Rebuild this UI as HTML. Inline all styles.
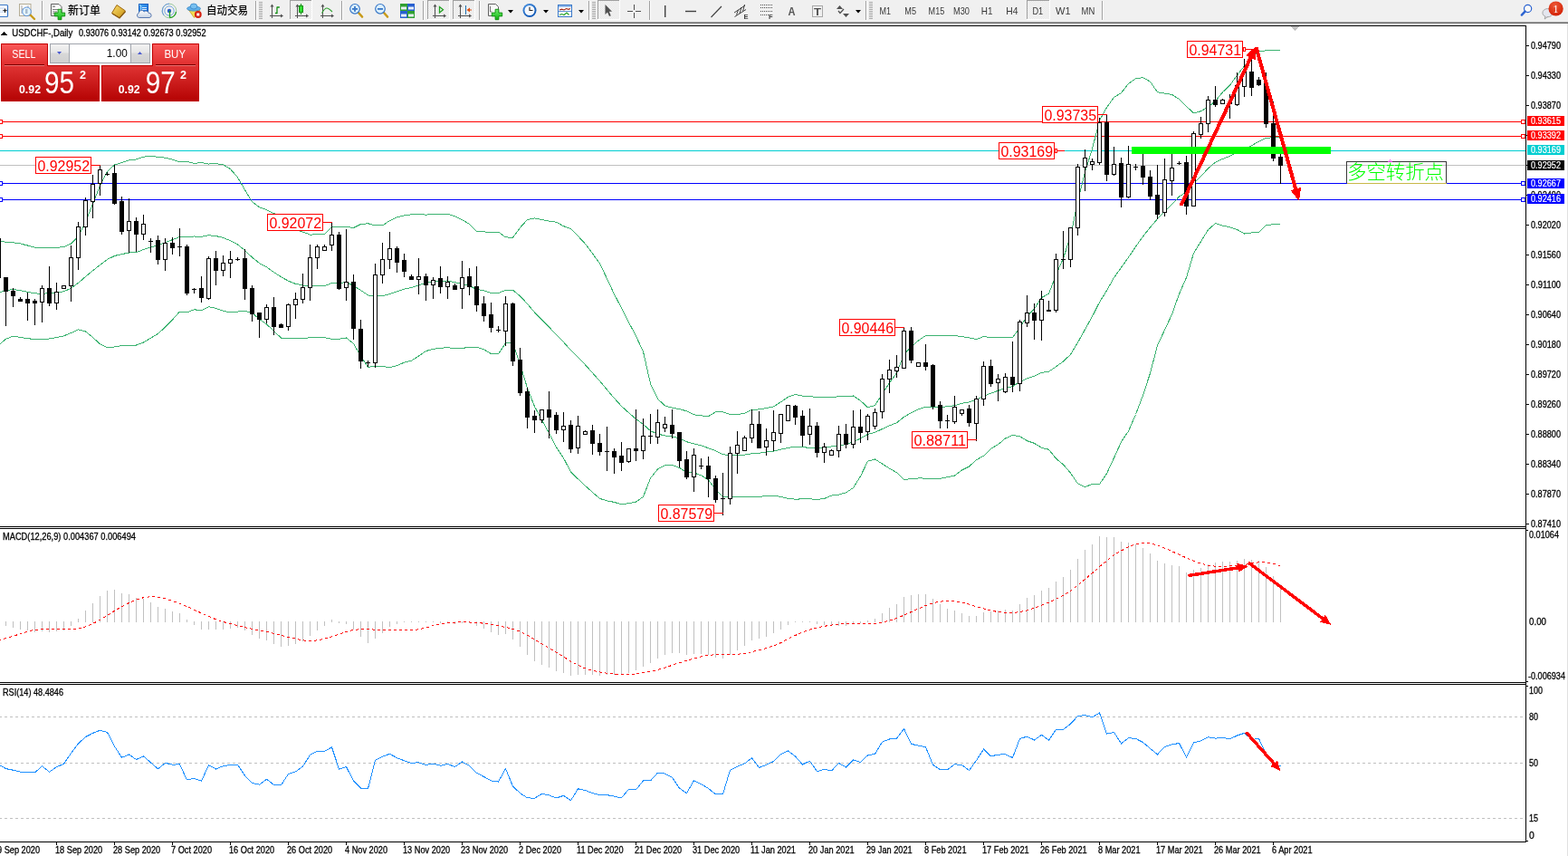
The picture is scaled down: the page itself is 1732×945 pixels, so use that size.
<!DOCTYPE html>
<html><head><meta charset="utf-8"><title>USDCHF-,Daily</title>
<style>
html,body{margin:0;padding:0;background:#fff;}
body{width:1732px;height:945px;overflow:hidden;position:relative;}
svg{position:absolute;left:0;top:0;display:block;}
text{white-space:pre;}
</style></head>
<body>
<svg width="1732" height="945" viewBox="0 0 1732 945" >
<rect x="0" y="0" width="1732" height="945" fill="#fff"/>
<g>
<defs>
<linearGradient id="tbgold" x1="0" y1="0" x2="1" y2="1"><stop offset="0" stop-color="#fbe070"/><stop offset="1" stop-color="#c89010"/></linearGradient>
<linearGradient id="tbblue" x1="0" y1="0" x2="1" y2="1"><stop offset="0" stop-color="#4ab0f8"/><stop offset="1" stop-color="#1060d0"/></linearGradient>
<linearGradient id="tbcloud" x1="0" y1="0" x2="0" y2="1"><stop offset="0" stop-color="#ffffff"/><stop offset="1" stop-color="#c8d4e4"/></linearGradient>
<linearGradient id="tbgreen" x1="0" y1="0" x2="0" y2="1"><stop offset="0" stop-color="#70f070"/><stop offset="1" stop-color="#10b010"/></linearGradient>
<radialGradient id="tbclock" cx="0.4" cy="0.35" r="0.7"><stop offset="0" stop-color="#60a8f0"/><stop offset="1" stop-color="#0850b0"/></radialGradient>
<pattern id="tbchk" width="2" height="2" patternUnits="userSpaceOnUse"><rect width="2" height="2" fill="#f8f8f8"/><rect width="1" height="1" fill="#e4e4e4"/><rect x="1" y="1" width="1" height="1" fill="#e4e4e4"/></pattern>
</defs>
<rect x="0" y="0" width="1732" height="24" fill="#f0f0f0"/>
<rect x="0" y="24" width="1732" height="1" fill="#a0a0a0"/>
<rect x="0" y="25" width="1732" height="1" fill="#686868"/>
<rect x="0" y="26" width="1732" height="2" fill="#ffffff"/>
<rect x="-6" y="5.5" width="14.5" height="13" rx="1" fill="#fff" stroke="#3a78c8" stroke-width="1.2"/>
<rect x="-5" y="7.5" width="10" height="0.8" fill="#c8d8f0"/>
<rect x="-5" y="9" width="10" height="0.8" fill="#c8d8f0"/>
<rect x="-5" y="11.5" width="10" height="0.8" fill="#c8d8f0"/>
<rect x="-5" y="13" width="10" height="0.8" fill="#c8d8f0"/>
<path d="M5.5,9.5 v4.5 M3.3,11.7 h4.5" stroke="#111" stroke-width="1"/>
<rect x="21.5" y="4.5" width="12.5" height="13" fill="#fcfcfc" stroke="#b4ac94" stroke-width="1"/>
<path d="M24,6 v9 M24,10 h2 M31,6 v5" stroke="#909090" stroke-width="0.8" fill="none"/>
<line x1="33.5" y1="16.5" x2="38" y2="21" stroke="#c89a18" stroke-width="2.4" stroke-linecap="round"/>
<circle cx="29.5" cy="12.8" r="4.8" fill="#e2f4fc" fill-opacity="0.92" stroke="#5a92dc" stroke-width="1"/>
<rect x="28" y="10" width="2.5" height="5" fill="#a8bcd0"/>
<rect x="46" y="1" width="1" height="21" fill="#a0a0a0"/>
<rect x="47" y="1" width="1" height="21" fill="#ffffff"/>
<path d="M56.5,4.5 h8.5 l3,3 v10 h-11.5 z" fill="#fafafa" stroke="#606060" stroke-width="1"/>
<rect x="58" y="6.5" width="3" height="1.3" fill="#808080"/><rect x="58" y="10" width="6" height="0.9" fill="#707070"/><rect x="58" y="12.5" width="5" height="0.9" fill="#707070"/><rect x="58" y="14.5" width="3" height="0.9" fill="#707070"/>
<path d="M64.1,10.3 h3.8 v3.7999999999999994 h3.7999999999999994 v3.8 h-3.7999999999999994 v3.7999999999999994 h-3.8 v-3.7999999999999994 h-3.7999999999999994 v-3.8 h3.7999999999999994 z" fill="url(#tbgreen)" stroke="#0a8a0a" stroke-width="0.9"/>
<text x="75" y="15.5" font-family='"Liberation Sans", "Noto Sans CJK SC", sans-serif' font-size="12" font-weight="500" fill="#000" textLength="36" lengthAdjust="spacingAndGlyphs">新订单</text>
<path d="M123.5,14.5 L129,5.5 L138.5,12 L132,19.5 Z" fill="url(#tbgold)" stroke="#a06a10" stroke-width="1" stroke-linejoin="round"/>
<path d="M124,15 L132,20 L138.5,12.8" fill="none" stroke="#8a5a10" stroke-width="1.3"/>
<rect x="153.5" y="4.5" width="10" height="10" fill="url(#tbblue)" stroke="#1a60c0" stroke-width="1"/>
<path d="M153.8,4.8 l2,2 v8" stroke="#bfe4ff" stroke-width="0.8" fill="none"/>
<rect x="157" y="8" width="5" height="1" fill="#d8ecff"/><rect x="157" y="10" width="5" height="1" fill="#d8ecff"/>
<path d="M153.5,19.5 a2.6,2.6 0 0 1 -0.3,-5 a3.3,3.3 0 0 1 6,-1.6 a3,3 0 0 1 5,1.6 a2.5,2.5 0 0 1 0.8,5 z" fill="url(#tbcloud)" stroke="#5a7ab0" stroke-width="1"/>
<circle cx="187" cy="12" r="7.8" fill="none" stroke="#9cc89c" stroke-width="1"/>
<path d="M181,17 A7.8,7.8 0 0 1 187,4.2" fill="none" stroke="#6a98e0" stroke-width="1"/>
<circle cx="187" cy="12" r="5.2" fill="none" stroke="#78a8e0" stroke-width="1"/>
<circle cx="187" cy="12" r="2.2" fill="#2a5ec8"/>
<path d="M187.5,12 V19.5 M187.5,19.5 A7.5,7.5 0 0 0 194.5,13" fill="none" stroke="#20a020" stroke-width="1.3"/>
<path d="M208.5,11 L214.5,19.5 L221,11 Z" fill="#f4dc50" stroke="#c8a020" stroke-width="0.8"/>
<ellipse cx="214" cy="9.5" rx="7.5" ry="2.6" fill="#62b0e8" stroke="#3a88c8" stroke-width="0.8"/>
<ellipse cx="214" cy="7" rx="3.8" ry="3" fill="#78c0f0" stroke="#3a88c8" stroke-width="0.8"/>
<circle cx="218.8" cy="16" r="3.9" fill="#d42010"/>
<rect x="217.3" y="14.5" width="3" height="3" fill="#fff"/>
<text x="228" y="15.5" font-family='"Liberation Sans", "Noto Sans CJK SC", sans-serif' font-size="12" font-weight="500" fill="#000" textLength="46" lengthAdjust="spacingAndGlyphs">自动交易</text>
<rect x="282" y="1" width="1" height="21" fill="#a0a0a0"/>
<rect x="283" y="1" width="1" height="21" fill="#ffffff"/>
<rect x="286" y="2" width="4" height="1" fill="#a8a8a8"/>
<rect x="286" y="4" width="4" height="1" fill="#a8a8a8"/>
<rect x="286" y="6" width="4" height="1" fill="#a8a8a8"/>
<rect x="286" y="8" width="4" height="1" fill="#a8a8a8"/>
<rect x="286" y="10" width="4" height="1" fill="#a8a8a8"/>
<rect x="286" y="12" width="4" height="1" fill="#a8a8a8"/>
<rect x="286" y="14" width="4" height="1" fill="#a8a8a8"/>
<rect x="286" y="16" width="4" height="1" fill="#a8a8a8"/>
<rect x="286" y="18" width="4" height="1" fill="#a8a8a8"/>
<rect x="286" y="20" width="4" height="1" fill="#a8a8a8"/>
<rect x="300" y="6" width="1" height="14" fill="#505050"/>
<rect x="298" y="17" width="14" height="1" fill="#505050"/>
<polygon points="300.5,4.5 298.5,7.5 302.5,7.5" fill="#505050"/>
<polygon points="313,17.5 310,15.5 310,19.5" fill="#505050"/>
<path d="M304,14.5 h2.5 M306,15 V7.5 M306,8 h2.8" fill="none" stroke="#159015" stroke-width="1.3"/>
<rect x="320" y="0" width="25" height="22" fill="url(#tbchk)"/>
<rect x="320" y="0" width="25" height="1" fill="#a0a0a0"/>
<rect x="320" y="0" width="1" height="22" fill="#a0a0a0"/>
<rect x="344" y="0" width="1" height="22" fill="#ffffff"/>
<rect x="320" y="21" width="25" height="1" fill="#ffffff"/>
<rect x="328" y="6" width="1" height="14" fill="#505050"/>
<rect x="326" y="17" width="14" height="1" fill="#505050"/>
<polygon points="328.5,4.5 326.5,7.5 330.5,7.5" fill="#505050"/>
<polygon points="341,17.5 338,15.5 338,19.5" fill="#505050"/>
<rect x="332" y="4" width="1" height="12" fill="#109010"/>
<rect x="330.5" y="6.5" width="4" height="7" fill="#30e030" stroke="#109010" stroke-width="1"/>
<rect x="356" y="6" width="1" height="14" fill="#505050"/>
<rect x="354" y="17" width="14" height="1" fill="#505050"/>
<polygon points="356.5,4.5 354.5,7.5 358.5,7.5" fill="#505050"/>
<polygon points="369,17.5 366,15.5 366,19.5" fill="#505050"/>
<path d="M355.5,14.5 Q358.5,9 361,9 Q363,9 367,13" fill="none" stroke="#30a030" stroke-width="1.1"/>
<rect x="377" y="1" width="1" height="21" fill="#a0a0a0"/>
<rect x="378" y="1" width="1" height="21" fill="#ffffff"/>
<line x1="395.5" y1="13.5" x2="400" y2="18.5" stroke="#c89a18" stroke-width="2.6" stroke-linecap="round"/>
<circle cx="392" cy="9.8" r="5.3" fill="#dcf0fc" stroke="#3a78c8" stroke-width="1.2"/>
<rect x="389" y="9" width="6" height="1.8" fill="#3a78c8"/>
<rect x="391.1" y="6.9" width="1.8" height="6" fill="#3a78c8"/>
<line x1="423.5" y1="13.5" x2="428" y2="18.5" stroke="#c89a18" stroke-width="2.6" stroke-linecap="round"/>
<circle cx="420" cy="9.8" r="5.3" fill="#dcf0fc" stroke="#3a78c8" stroke-width="1.2"/>
<rect x="417" y="9" width="6" height="1.8" fill="#3a78c8"/>
<rect x="442" y="4" width="8" height="8" fill="#30a030"/>
<rect x="443" y="7.5" width="6" height="3" fill="#e8f0f8"/>
<rect x="450" y="4" width="8" height="8" fill="#2860d0"/>
<rect x="451" y="7.5" width="6" height="3" fill="#e8f0f8"/>
<rect x="442" y="12" width="8" height="8" fill="#2860d0"/>
<rect x="443" y="15.5" width="6" height="3" fill="#e8f0f8"/>
<rect x="450" y="12" width="8" height="8" fill="#30a030"/>
<rect x="451" y="15.5" width="6" height="3" fill="#e8f0f8"/>
<rect x="467" y="1" width="1" height="21" fill="#a0a0a0"/>
<rect x="468" y="1" width="1" height="21" fill="#ffffff"/>
<rect x="472" y="0" width="25" height="22" fill="url(#tbchk)"/>
<rect x="472" y="0" width="25" height="1" fill="#a0a0a0"/>
<rect x="472" y="0" width="1" height="22" fill="#a0a0a0"/>
<rect x="496" y="0" width="1" height="22" fill="#ffffff"/>
<rect x="472" y="21" width="25" height="1" fill="#ffffff"/>
<rect x="480" y="6" width="1" height="14" fill="#505050"/>
<rect x="478" y="17" width="14" height="1" fill="#505050"/>
<polygon points="480.5,4.5 478.5,7.5 482.5,7.5" fill="#505050"/>
<polygon points="493,17.5 490,15.5 490,19.5" fill="#505050"/>
<polygon points="485.5,7.5 485.5,14 489.5,10.75" fill="none" stroke="#20a020" stroke-width="1.3"/>
<rect x="500" y="0" width="25" height="22" fill="url(#tbchk)"/>
<rect x="500" y="0" width="25" height="1" fill="#a0a0a0"/>
<rect x="500" y="0" width="1" height="22" fill="#a0a0a0"/>
<rect x="524" y="0" width="1" height="22" fill="#ffffff"/>
<rect x="500" y="21" width="25" height="1" fill="#ffffff"/>
<rect x="508" y="6" width="1" height="14" fill="#505050"/>
<rect x="506" y="17" width="14" height="1" fill="#505050"/>
<polygon points="508.5,4.5 506.5,7.5 510.5,7.5" fill="#505050"/>
<polygon points="521,17.5 518,15.5 518,19.5" fill="#505050"/>
<rect x="514" y="6" width="1" height="10" fill="#1f6fb0"/>
<polygon points="515.5,11 519,8.5 519,13.5" fill="#e05010"/><rect x="518" y="10.5" width="3" height="1" fill="#e05010"/>
<rect x="529" y="1" width="1" height="21" fill="#a0a0a0"/>
<rect x="530" y="1" width="1" height="21" fill="#ffffff"/>
<path d="M539.5,4.5 h8 l3,3 v10 h-11 z" fill="#fafafa" stroke="#606060" stroke-width="1"/>
<path d="M541.5,7 v6 h2" fill="none" stroke="#505050" stroke-width="0.8"/>
<path d="M547.1,10.3 h3.8 v3.7999999999999994 h3.7999999999999994 v3.8 h-3.7999999999999994 v3.7999999999999994 h-3.8 v-3.7999999999999994 h-3.7999999999999994 v-3.8 h3.7999999999999994 z" fill="url(#tbgreen)" stroke="#0a8a0a" stroke-width="0.9"/>
<polygon points="561,11 567,11 564,14.5" fill="#000"/>
<circle cx="585" cy="11.5" r="7.5" fill="url(#tbclock)"/>
<circle cx="585" cy="11.5" r="5.5" fill="#f6f8fc"/>
<path d="M585,7.8 V11.5 H588.5" fill="none" stroke="#222" stroke-width="1.1"/>
<polygon points="600,11 606,11 603,14.5" fill="#000"/>
<rect x="616.5" y="5.5" width="15" height="13" fill="#fff" stroke="#3a78c8" stroke-width="1"/>
<rect x="617" y="6" width="14" height="1.8" fill="#8ab4e8"/>
<rect x="617" y="12.2" width="14" height="0.8" fill="#3a78c8"/>
<path d="M618,11 l2.5,-0.8 l2.5,0.8 l2.5,-1.5 l2.5,0.8 l2,-0.8" fill="none" stroke="#a02010" stroke-width="1.1"/>
<path d="M618,16.5 l2.5,-1 l2.5,1 l3,-2.5 l2.5,2.5" fill="none" stroke="#20a020" stroke-width="1.1"/>
<polygon points="639,11 645,11 642,14.5" fill="#000"/>
<rect x="650" y="1" width="1" height="21" fill="#a0a0a0"/>
<rect x="651" y="1" width="1" height="21" fill="#ffffff"/>
<rect x="654" y="2" width="4" height="1" fill="#a8a8a8"/>
<rect x="654" y="4" width="4" height="1" fill="#a8a8a8"/>
<rect x="654" y="6" width="4" height="1" fill="#a8a8a8"/>
<rect x="654" y="8" width="4" height="1" fill="#a8a8a8"/>
<rect x="654" y="10" width="4" height="1" fill="#a8a8a8"/>
<rect x="654" y="12" width="4" height="1" fill="#a8a8a8"/>
<rect x="654" y="14" width="4" height="1" fill="#a8a8a8"/>
<rect x="654" y="16" width="4" height="1" fill="#a8a8a8"/>
<rect x="654" y="18" width="4" height="1" fill="#a8a8a8"/>
<rect x="654" y="20" width="4" height="1" fill="#a8a8a8"/>
<rect x="660" y="0" width="25" height="22" fill="url(#tbchk)"/>
<rect x="660" y="0" width="25" height="1" fill="#a0a0a0"/>
<rect x="660" y="0" width="1" height="22" fill="#a0a0a0"/>
<rect x="684" y="0" width="1" height="22" fill="#ffffff"/>
<rect x="660" y="21" width="25" height="1" fill="#ffffff"/>
<path d="M668.5,5 L668.5,16 L671,13.5 L673,18 L674.8,17.2 L672.8,12.8 L676,12.8 Z" fill="#505050"/>
<rect x="700" y="5" width="1" height="15" fill="#505050"/><rect x="693" y="12" width="15" height="1" fill="#505050"/>
<rect x="699" y="11" width="3" height="3" fill="#f0f0f0"/>
<rect x="717" y="1" width="1" height="21" fill="#a0a0a0"/>
<rect x="718" y="1" width="1" height="21" fill="#ffffff"/>
<rect x="734" y="6" width="1.4" height="13" fill="#404040"/>
<rect x="757" y="11.8" width="12" height="1.4" fill="#404040"/>
<line x1="785.5" y1="19" x2="797" y2="7" stroke="#404040" stroke-width="1.1"/>
<path d="M811,14 L823,6 M811.5,18.5 L824,10.5 M813.5,16.5 L815.5,11 M817,15 L819,8 M820.5,12.5 L822.5,5" fill="none" stroke="#404040" stroke-width="1"/>
<text x="821.5" y="21" font-family='"Liberation Sans", Arial, sans-serif' font-size="7.5" font-weight="bold" fill="#404040">E</text>
<line x1="840" y1="5.5" x2="853" y2="5.5" stroke="#505050" stroke-width="1" stroke-dasharray="1 1"/>
<line x1="840" y1="8.5" x2="853" y2="8.5" stroke="#505050" stroke-width="1" stroke-dasharray="1 1"/>
<line x1="840" y1="12.5" x2="853" y2="12.5" stroke="#505050" stroke-width="1" stroke-dasharray="1 1"/>
<line x1="840" y1="16.5" x2="849" y2="16.5" stroke="#505050" stroke-width="1" stroke-dasharray="1 1"/>
<text x="849" y="21" font-family='"Liberation Sans", Arial, sans-serif' font-size="7.5" font-weight="bold" fill="#404040">F</text>
<text x="870.5" y="17" font-family='"Liberation Sans", Arial, sans-serif' font-size="12" font-weight="bold" fill="#555" textLength="8" lengthAdjust="spacingAndGlyphs">A</text>
<rect x="897.5" y="6.5" width="11" height="12" fill="none" stroke="#606060" stroke-width="1" stroke-dasharray="1 1"/>
<text x="899" y="16.5" font-family='"Liberation Sans", Arial, sans-serif' font-size="11" font-weight="bold" fill="#505050" textLength="8" lengthAdjust="spacingAndGlyphs">T</text>
<polygon points="924,10 927.5,6 931,10" fill="#505050"/><polygon points="931,15 934.5,19 938,15" fill="#505050"/>
<path d="M926,12 l2,2.5 l4,-4.5" fill="none" stroke="#505050" stroke-width="1.3"/>
<polygon points="945,11 951,11 948,14.5" fill="#000"/>
<rect x="956" y="1" width="1" height="21" fill="#a0a0a0"/>
<rect x="957" y="1" width="1" height="21" fill="#ffffff"/>
<rect x="960" y="2" width="4" height="1" fill="#a8a8a8"/>
<rect x="960" y="4" width="4" height="1" fill="#a8a8a8"/>
<rect x="960" y="6" width="4" height="1" fill="#a8a8a8"/>
<rect x="960" y="8" width="4" height="1" fill="#a8a8a8"/>
<rect x="960" y="10" width="4" height="1" fill="#a8a8a8"/>
<rect x="960" y="12" width="4" height="1" fill="#a8a8a8"/>
<rect x="960" y="14" width="4" height="1" fill="#a8a8a8"/>
<rect x="960" y="16" width="4" height="1" fill="#a8a8a8"/>
<rect x="960" y="18" width="4" height="1" fill="#a8a8a8"/>
<rect x="960" y="20" width="4" height="1" fill="#a8a8a8"/>
<rect x="1134" y="0" width="26" height="22" fill="url(#tbchk)"/>
<rect x="1134" y="0" width="26" height="1" fill="#a0a0a0"/>
<rect x="1134" y="0" width="1" height="22" fill="#a0a0a0"/>
<rect x="1159" y="0" width="1" height="22" fill="#ffffff"/>
<rect x="1134" y="21" width="26" height="1" fill="#ffffff"/>
<text x="971.5" y="16" font-family='"Liberation Sans", Arial, sans-serif' font-size="10.5" fill="#383838" textLength="12.5" lengthAdjust="spacingAndGlyphs">M1</text>
<text x="999.3" y="16" font-family='"Liberation Sans", Arial, sans-serif' font-size="10.5" fill="#383838" textLength="12.7" lengthAdjust="spacingAndGlyphs">M5</text>
<text x="1025.6" y="16" font-family='"Liberation Sans", Arial, sans-serif' font-size="10.5" fill="#383838" textLength="17.6" lengthAdjust="spacingAndGlyphs">M15</text>
<text x="1053" y="16" font-family='"Liberation Sans", Arial, sans-serif' font-size="10.5" fill="#383838" textLength="18" lengthAdjust="spacingAndGlyphs">M30</text>
<text x="1083.8" y="16" font-family='"Liberation Sans", Arial, sans-serif' font-size="10.5" fill="#383838" textLength="12.7" lengthAdjust="spacingAndGlyphs">H1</text>
<text x="1111.2" y="16" font-family='"Liberation Sans", Arial, sans-serif' font-size="10.5" fill="#383838" textLength="13.2" lengthAdjust="spacingAndGlyphs">H4</text>
<text x="1140.4" y="16" font-family='"Liberation Sans", Arial, sans-serif' font-size="10.5" fill="#383838" textLength="11.8" lengthAdjust="spacingAndGlyphs">D1</text>
<text x="1166" y="16" font-family='"Liberation Sans", Arial, sans-serif' font-size="10.5" fill="#383838" textLength="16.5" lengthAdjust="spacingAndGlyphs">W1</text>
<text x="1194.6" y="16" font-family='"Liberation Sans", Arial, sans-serif' font-size="10.5" fill="#383838" textLength="14.7" lengthAdjust="spacingAndGlyphs">MN</text>
<rect x="1217" y="1" width="1" height="21" fill="#a0a0a0"/>
<rect x="1218" y="1" width="1" height="21" fill="#ffffff"/>
<circle cx="1687.6" cy="9.5" r="4.1" fill="#fff" fill-opacity="0.6" stroke="#2a62d0" stroke-width="1.2"/>
<line x1="1684.6" y1="12.6" x2="1680.8" y2="16.6" stroke="#2a62d0" stroke-width="2.4" stroke-linecap="round"/>
<ellipse cx="1709.5" cy="14.2" rx="5.6" ry="4.6" fill="#e4e6ee" stroke="#a8a8a8" stroke-width="1"/>
<path d="M1707,18 l-0.8,3 l3.5,-2.6" fill="#e4e6ee" stroke="#909090" stroke-width="0.8"/>
<radialGradient id="tbbadge" cx="0.45" cy="0.3" r="0.75"><stop offset="0" stop-color="#ee5a38"/><stop offset="1" stop-color="#d01c00"/></radialGradient>
<circle cx="1718.6" cy="9.5" r="8.1" fill="url(#tbbadge)"/>
<text x="1718.6" y="13.8" text-anchor="middle" font-family='"Liberation Serif", serif' font-size="12" fill="#fff">1</text>
</g>
<rect x="1731" y="26" width="1" height="919" fill="#e0e0e0"/>
<g shape-rendering="crispEdges">
<clipPath id="cm"><rect x="0" y="29" width="1685" height="552"/></clipPath>
<clipPath id="cmacd"><rect x="0" y="584" width="1685" height="169"/></clipPath>
<clipPath id="crsi"><rect x="0" y="756" width="1685" height="173"/></clipPath>
<g clip-path="url(#cm)">
<rect x="0" y="134" width="1685" height="1" fill="#ff0000"/>
<rect x="0" y="150" width="1685" height="1" fill="#ff0000"/>
<rect x="0" y="166" width="1685" height="1" fill="#00ced1"/>
<rect x="0" y="182" width="1685" height="1" fill="#c0c0c0"/>
<rect x="0" y="202" width="1685" height="1" fill="#0000ff"/>
<rect x="0" y="220" width="1685" height="1" fill="#0000ff"/>
<polyline points="-1.5,323.24 6.5,320.73 14.5,319.49 22.5,320.70 30.5,322.32 38.5,323.94 46.5,324.15 54.5,323.80 62.5,322.98 70.5,321.75 78.5,318.27 86.5,312.32 94.5,305.41 102.5,298.83 110.5,292.42 118.5,286.43 126.5,282.48 134.5,280.60 142.5,279.01 150.5,278.52 158.5,275.59 166.5,272.86 174.5,270.85 182.5,267.67 190.5,264.60 198.5,261.52 206.5,261.74 214.5,260.98 222.5,261.27 230.5,259.81 238.5,260.52 246.5,262.48 254.5,265.75 262.5,269.88 270.5,276.44 278.5,284.14 286.5,290.55 294.5,294.77 302.5,300.59 310.5,305.74 318.5,310.17 326.5,313.39 334.5,314.98 342.5,315.80 350.5,315.75 358.5,315.73 366.5,312.56 374.5,312.48 382.5,311.61 390.5,315.47 398.5,320.43 406.5,325.93 414.5,326.77 422.5,326.80 430.5,324.58 438.5,321.74 446.5,319.08 454.5,317.49 462.5,314.72 470.5,312.34 478.5,311.01 486.5,310.27 494.5,309.96 502.5,311.67 510.5,313.37 518.5,315.56 526.5,319.40 534.5,320.91 542.5,323.39 550.5,323.49 558.5,320.38 566.5,320.30 574.5,326.76 582.5,335.45 590.5,344.88 598.5,353.06 606.5,361.11 614.5,369.46 622.5,377.67 630.5,386.73 638.5,394.73 646.5,402.77 654.5,411.68 662.5,420.63 670.5,430.24 678.5,439.64 686.5,448.36 694.5,455.73 702.5,462.55 710.5,468.39 718.5,475.69 726.5,479.11 734.5,480.91 742.5,481.82 750.5,484.07 758.5,487.73 766.5,489.86 774.5,491.82 782.5,494.77 790.5,497.57 798.5,501.61 806.5,502.81 814.5,502.89 822.5,502.17 830.5,500.70 838.5,500.20 846.5,498.99 854.5,498.09 862.5,496.09 870.5,494.39 878.5,493.30 886.5,493.96 894.5,494.06 902.5,495.10 910.5,494.38 918.5,492.97 926.5,491.82 934.5,490.61 942.5,487.75 950.5,484.05 958.5,479.50 966.5,477.24 974.5,473.61 982.5,469.86 990.5,466.71 998.5,460.27 1006.5,455.79 1014.5,451.94 1022.5,449.25 1030.5,449.31 1038.5,449.52 1046.5,448.74 1054.5,447.69 1062.5,445.34 1070.5,443.98 1078.5,441.13 1086.5,437.39 1094.5,434.05 1102.5,431.36 1110.5,428.34 1118.5,426.60 1126.5,421.60 1134.5,417.96 1142.5,415.21 1150.5,411.43 1158.5,410.27 1166.5,404.75 1174.5,399.02 1182.5,391.38 1190.5,378.18 1198.5,363.68 1206.5,349.40 1214.5,333.69 1222.5,320.74 1230.5,306.45 1238.5,295.28 1246.5,284.13 1254.5,272.18 1262.5,261.07 1270.5,251.03 1278.5,241.59 1286.5,233.74 1294.5,225.74 1302.5,217.06 1310.5,211.92 1318.5,202.19 1326.5,194.69 1334.5,185.92 1342.5,179.13 1350.5,175.42 1358.5,172.44 1366.5,168.23 1374.5,165.44 1382.5,160.64 1390.5,156.26 1398.5,152.23 1406.5,151.86 1414.5,151.77" fill="none" stroke="#3cb371" stroke-width="1"/>
<polyline points="-1.5,265.42 6.5,267.26 14.5,267.77 22.5,268.98 30.5,271.01 38.5,273.26 46.5,273.59 54.5,273.64 62.5,273.33 70.5,272.61 78.5,269.00 86.5,260.70 94.5,244.87 102.5,225.29 110.5,204.98 118.5,189.28 126.5,182.01 134.5,179.57 142.5,176.78 150.5,176.00 158.5,173.09 166.5,172.46 174.5,173.24 182.5,174.20 190.5,176.21 198.5,178.99 206.5,178.57 214.5,180.26 222.5,179.61 230.5,181.06 238.5,180.64 246.5,181.73 254.5,186.59 262.5,195.75 270.5,209.64 278.5,222.71 286.5,228.74 294.5,231.63 302.5,235.60 310.5,238.47 318.5,247.19 326.5,253.17 334.5,256.06 342.5,259.07 350.5,258.84 358.5,258.74 366.5,250.74 374.5,250.69 382.5,250.29 390.5,251.47 398.5,247.58 406.5,246.74 414.5,248.90 422.5,248.98 430.5,243.55 438.5,239.92 446.5,237.96 454.5,236.81 462.5,236.45 470.5,237.12 478.5,236.61 486.5,236.38 494.5,236.14 502.5,238.67 510.5,242.59 518.5,247.34 526.5,255.67 534.5,255.94 542.5,256.25 550.5,256.12 558.5,261.90 566.5,262.25 574.5,251.32 582.5,242.56 590.5,240.96 598.5,242.42 606.5,244.08 614.5,245.18 622.5,249.68 630.5,252.48 638.5,260.67 646.5,269.26 654.5,279.92 662.5,290.89 670.5,307.61 678.5,324.88 686.5,339.93 694.5,355.78 702.5,370.98 710.5,388.30 718.5,423.53 726.5,440.37 734.5,447.97 742.5,450.24 750.5,451.72 758.5,453.79 766.5,457.80 774.5,458.87 782.5,459.67 790.5,454.69 798.5,454.84 806.5,457.44 814.5,457.61 822.5,456.17 830.5,452.44 838.5,451.88 846.5,450.59 854.5,448.84 862.5,443.82 870.5,438.30 878.5,435.47 886.5,437.04 894.5,437.30 902.5,438.76 910.5,438.37 918.5,438.83 926.5,437.59 934.5,437.36 942.5,436.97 950.5,442.32 958.5,449.76 966.5,447.47 974.5,435.23 982.5,422.54 990.5,411.76 998.5,391.27 1006.5,382.75 1014.5,375.91 1022.5,370.49 1030.5,370.55 1038.5,370.62 1046.5,370.76 1054.5,370.37 1062.5,371.65 1070.5,372.97 1078.5,374.57 1086.5,371.53 1094.5,372.57 1102.5,372.05 1110.5,372.66 1118.5,372.81 1126.5,361.38 1134.5,349.26 1142.5,341.11 1150.5,328.57 1158.5,324.27 1166.5,303.31 1174.5,285.20 1182.5,260.63 1190.5,222.45 1198.5,189.78 1206.5,164.41 1214.5,132.84 1222.5,118.69 1230.5,107.35 1238.5,102.63 1246.5,92.34 1254.5,86.85 1262.5,85.68 1270.5,90.09 1278.5,101.79 1286.5,103.16 1294.5,104.34 1302.5,109.54 1310.5,117.47 1318.5,124.88 1326.5,122.75 1334.5,118.16 1342.5,111.67 1350.5,101.76 1358.5,94.16 1366.5,83.06 1374.5,72.82 1382.5,64.36 1390.5,56.20 1398.5,55.94 1406.5,55.97 1414.5,55.99" fill="none" stroke="#3cb371" stroke-width="1"/>
<polyline points="-1.5,381.06 6.5,374.20 14.5,371.21 22.5,372.42 30.5,373.63 38.5,374.63 46.5,374.72 54.5,373.97 62.5,372.62 70.5,370.89 78.5,367.53 86.5,363.93 94.5,365.95 102.5,372.38 110.5,379.86 118.5,383.58 126.5,382.95 134.5,381.62 142.5,381.24 150.5,381.04 158.5,378.09 166.5,373.25 174.5,368.45 182.5,361.14 190.5,352.99 198.5,344.04 206.5,344.91 214.5,341.70 222.5,342.94 230.5,338.57 238.5,340.40 246.5,343.23 254.5,344.90 262.5,344.02 270.5,343.24 278.5,345.57 286.5,352.35 294.5,357.92 302.5,365.59 310.5,373.01 318.5,373.15 326.5,373.62 334.5,373.91 342.5,372.54 350.5,372.66 358.5,372.71 366.5,374.37 374.5,374.26 382.5,372.94 390.5,379.47 398.5,393.27 406.5,405.13 414.5,404.65 422.5,404.62 430.5,405.62 438.5,403.55 446.5,400.20 454.5,398.16 462.5,392.99 470.5,387.56 478.5,385.41 486.5,384.16 494.5,383.77 502.5,384.67 510.5,384.15 518.5,383.78 526.5,383.12 534.5,385.87 542.5,390.54 550.5,390.86 558.5,378.86 566.5,378.35 574.5,402.21 582.5,428.34 590.5,448.79 598.5,463.71 606.5,478.15 614.5,493.74 622.5,505.67 630.5,520.98 638.5,528.80 646.5,536.28 654.5,543.44 662.5,550.36 670.5,552.86 678.5,554.39 686.5,556.79 694.5,555.68 702.5,554.12 710.5,548.49 718.5,527.86 726.5,517.86 734.5,513.85 742.5,513.40 750.5,516.42 758.5,521.67 766.5,521.92 774.5,524.78 782.5,529.88 790.5,540.44 798.5,548.37 806.5,548.18 814.5,548.18 822.5,548.18 830.5,548.96 838.5,548.52 846.5,547.38 854.5,547.34 862.5,548.36 870.5,550.48 878.5,551.14 886.5,550.88 894.5,550.81 902.5,551.43 910.5,550.39 918.5,547.11 926.5,546.05 934.5,543.86 942.5,538.53 950.5,525.78 958.5,509.24 966.5,507.01 974.5,511.99 982.5,517.17 990.5,521.66 998.5,529.27 1006.5,528.84 1014.5,527.98 1022.5,528.02 1030.5,528.07 1038.5,528.42 1046.5,526.72 1054.5,525.01 1062.5,519.02 1070.5,514.99 1078.5,507.69 1086.5,503.24 1094.5,495.52 1102.5,490.66 1110.5,484.03 1118.5,480.39 1126.5,481.83 1134.5,486.65 1142.5,489.32 1150.5,494.29 1158.5,496.27 1166.5,506.19 1174.5,512.85 1182.5,522.12 1190.5,533.91 1198.5,537.58 1206.5,534.39 1214.5,534.55 1222.5,522.79 1230.5,505.56 1238.5,487.93 1246.5,475.92 1254.5,457.50 1262.5,436.46 1270.5,411.96 1278.5,381.38 1286.5,364.32 1294.5,347.14 1302.5,324.59 1310.5,306.36 1318.5,279.51 1326.5,266.64 1334.5,253.68 1342.5,246.60 1350.5,249.08 1358.5,250.72 1366.5,253.41 1374.5,258.05 1382.5,256.91 1390.5,256.31 1398.5,248.52 1406.5,247.74 1414.5,247.55" fill="none" stroke="#3cb371" stroke-width="1"/>
<rect x="-2" y="263" width="1" height="44" fill="#000"/>
<rect x="-4" y="263" width="5" height="44" fill="#000"/>
<rect x="6" y="306" width="1" height="54" fill="#000"/>
<rect x="4" y="306" width="5" height="16" fill="#000"/>
<rect x="14" y="318" width="1" height="21" fill="#000"/>
<rect x="12" y="321" width="5" height="6" fill="#000"/>
<rect x="22" y="328" width="1" height="5" fill="#000"/>
<rect x="20" y="330" width="5" height="3" fill="#000"/>
<rect x="30" y="323" width="1" height="31" fill="#000"/>
<rect x="28" y="330" width="5" height="5" fill="#000"/>
<rect x="38" y="330" width="1" height="29" fill="#000"/>
<rect x="36" y="332" width="5" height="3" fill="#000"/>
<rect x="46" y="315" width="1" height="41" fill="#000"/>
<rect x="44.5" y="318.5" width="4" height="15" fill="#fff" stroke="#000" stroke-width="1"/>
<rect x="54" y="294" width="1" height="44" fill="#000"/>
<rect x="52" y="318" width="5" height="17" fill="#000"/>
<rect x="62" y="312" width="1" height="30" fill="#000"/>
<rect x="60.5" y="322.5" width="4" height="12" fill="#fff" stroke="#000" stroke-width="1"/>
<rect x="70" y="315" width="1" height="4" fill="#000"/>
<rect x="68.5" y="315.5" width="4" height="3" fill="#fff" stroke="#000" stroke-width="1"/>
<rect x="78" y="271" width="1" height="62" fill="#000"/>
<rect x="76.5" y="284.5" width="4" height="31" fill="#fff" stroke="#000" stroke-width="1"/>
<rect x="86" y="245" width="1" height="53" fill="#000"/>
<rect x="84.5" y="250.5" width="4" height="34" fill="#fff" stroke="#000" stroke-width="1"/>
<rect x="94" y="218" width="1" height="42" fill="#000"/>
<rect x="92.5" y="221.5" width="4" height="29" fill="#fff" stroke="#000" stroke-width="1"/>
<rect x="102" y="193" width="1" height="48" fill="#000"/>
<rect x="100.5" y="203.5" width="4" height="19" fill="#fff" stroke="#000" stroke-width="1"/>
<rect x="110" y="182" width="1" height="34" fill="#000"/>
<rect x="108.5" y="187.5" width="4" height="15" fill="#fff" stroke="#000" stroke-width="1"/>
<rect x="118" y="190" width="1" height="4" fill="#000"/>
<rect x="116" y="192" width="5" height="1" fill="#000"/>
<rect x="126" y="182" width="1" height="44" fill="#000"/>
<rect x="124" y="191" width="5" height="34" fill="#000"/>
<rect x="134" y="217" width="1" height="42" fill="#000"/>
<rect x="132" y="222" width="5" height="34" fill="#000"/>
<rect x="142" y="219" width="1" height="60" fill="#000"/>
<rect x="140.5" y="244.5" width="4" height="10" fill="#fff" stroke="#000" stroke-width="1"/>
<rect x="150" y="240" width="1" height="38" fill="#000"/>
<rect x="148" y="244" width="5" height="15" fill="#000"/>
<rect x="158" y="237" width="1" height="28" fill="#000"/>
<rect x="156.5" y="247.5" width="4" height="11" fill="#fff" stroke="#000" stroke-width="1"/>
<rect x="166" y="263" width="1" height="16" fill="#000"/>
<rect x="164" y="266" width="5" height="1" fill="#000"/>
<rect x="174" y="260" width="1" height="32" fill="#000"/>
<rect x="172" y="265" width="5" height="22" fill="#000"/>
<rect x="182" y="263" width="1" height="36" fill="#000"/>
<rect x="180.5" y="268.5" width="4" height="18" fill="#fff" stroke="#000" stroke-width="1"/>
<rect x="190" y="262" width="1" height="19" fill="#000"/>
<rect x="188" y="268" width="5" height="6" fill="#000"/>
<rect x="198" y="252" width="1" height="31" fill="#000"/>
<rect x="196" y="272" width="5" height="1" fill="#000"/>
<rect x="206" y="270" width="1" height="56" fill="#000"/>
<rect x="204" y="272" width="5" height="52" fill="#000"/>
<rect x="214" y="318" width="1" height="6" fill="#000"/>
<rect x="212" y="319" width="5" height="1" fill="#000"/>
<rect x="222" y="305" width="1" height="29" fill="#000"/>
<rect x="220" y="318" width="5" height="11" fill="#000"/>
<rect x="230" y="283" width="1" height="48" fill="#000"/>
<rect x="228.5" y="285.5" width="4" height="44" fill="#fff" stroke="#000" stroke-width="1"/>
<rect x="238" y="277" width="1" height="38" fill="#000"/>
<rect x="236" y="285" width="5" height="14" fill="#000"/>
<rect x="246" y="282" width="1" height="23" fill="#000"/>
<rect x="244.5" y="290.5" width="4" height="8" fill="#fff" stroke="#000" stroke-width="1"/>
<rect x="254" y="277" width="1" height="30" fill="#000"/>
<rect x="252.5" y="286.5" width="4" height="4" fill="#fff" stroke="#000" stroke-width="1"/>
<rect x="262" y="284" width="1" height="4" fill="#000"/>
<rect x="260" y="286" width="5" height="1" fill="#000"/>
<rect x="270" y="275" width="1" height="56" fill="#000"/>
<rect x="268" y="285" width="5" height="34" fill="#000"/>
<rect x="278" y="315" width="1" height="40" fill="#000"/>
<rect x="276" y="318" width="5" height="29" fill="#000"/>
<rect x="286" y="345" width="1" height="28" fill="#000"/>
<rect x="284" y="345" width="5" height="8" fill="#000"/>
<rect x="294" y="336" width="1" height="21" fill="#000"/>
<rect x="292.5" y="339.5" width="4" height="13" fill="#fff" stroke="#000" stroke-width="1"/>
<rect x="302" y="328" width="1" height="42" fill="#000"/>
<rect x="300" y="339" width="5" height="22" fill="#000"/>
<rect x="310" y="357" width="1" height="5" fill="#000"/>
<rect x="308" y="358" width="5" height="4" fill="#000"/>
<rect x="318" y="335" width="1" height="30" fill="#000"/>
<rect x="316.5" y="336.5" width="4" height="24" fill="#fff" stroke="#000" stroke-width="1"/>
<rect x="326" y="323" width="1" height="29" fill="#000"/>
<rect x="324.5" y="330.5" width="4" height="6" fill="#fff" stroke="#000" stroke-width="1"/>
<rect x="334" y="302" width="1" height="33" fill="#000"/>
<rect x="332.5" y="317.5" width="4" height="13" fill="#fff" stroke="#000" stroke-width="1"/>
<rect x="342" y="270" width="1" height="62" fill="#000"/>
<rect x="340.5" y="284.5" width="4" height="33" fill="#fff" stroke="#000" stroke-width="1"/>
<rect x="350" y="270" width="1" height="27" fill="#000"/>
<rect x="348.5" y="272.5" width="4" height="12" fill="#fff" stroke="#000" stroke-width="1"/>
<rect x="358" y="270" width="1" height="7" fill="#000"/>
<rect x="356.5" y="272.5" width="4" height="4" fill="#fff" stroke="#000" stroke-width="1"/>
<rect x="366" y="245" width="1" height="32" fill="#000"/>
<rect x="364.5" y="259.5" width="4" height="11" fill="#fff" stroke="#000" stroke-width="1"/>
<rect x="374" y="256" width="1" height="64" fill="#000"/>
<rect x="372" y="259" width="5" height="60" fill="#000"/>
<rect x="382" y="253" width="1" height="79" fill="#000"/>
<rect x="380.5" y="311.5" width="4" height="6" fill="#fff" stroke="#000" stroke-width="1"/>
<rect x="390" y="303" width="1" height="72" fill="#000"/>
<rect x="388" y="311" width="5" height="52" fill="#000"/>
<rect x="398" y="353" width="1" height="54" fill="#000"/>
<rect x="396" y="363" width="5" height="36" fill="#000"/>
<rect x="406" y="398" width="1" height="7" fill="#000"/>
<rect x="404" y="400" width="5" height="1" fill="#000"/>
<rect x="414" y="291" width="1" height="115" fill="#000"/>
<rect x="412.5" y="303.5" width="4" height="97" fill="#fff" stroke="#000" stroke-width="1"/>
<rect x="422" y="268" width="1" height="45" fill="#000"/>
<rect x="420.5" y="286.5" width="4" height="17" fill="#fff" stroke="#000" stroke-width="1"/>
<rect x="430" y="256" width="1" height="41" fill="#000"/>
<rect x="428.5" y="274.5" width="4" height="12" fill="#fff" stroke="#000" stroke-width="1"/>
<rect x="438" y="272" width="1" height="29" fill="#000"/>
<rect x="436" y="274" width="5" height="16" fill="#000"/>
<rect x="446" y="280" width="1" height="26" fill="#000"/>
<rect x="444" y="287" width="5" height="13" fill="#000"/>
<rect x="454" y="303" width="1" height="6" fill="#000"/>
<rect x="452" y="305" width="5" height="4" fill="#000"/>
<rect x="462" y="285" width="1" height="40" fill="#000"/>
<rect x="460.5" y="305.5" width="4" height="3" fill="#fff" stroke="#000" stroke-width="1"/>
<rect x="470" y="302" width="1" height="30" fill="#000"/>
<rect x="468" y="305" width="5" height="10" fill="#000"/>
<rect x="478" y="306" width="1" height="24" fill="#000"/>
<rect x="476.5" y="309.5" width="4" height="5" fill="#fff" stroke="#000" stroke-width="1"/>
<rect x="486" y="294" width="1" height="30" fill="#000"/>
<rect x="484" y="307" width="5" height="10" fill="#000"/>
<rect x="494" y="305" width="1" height="25" fill="#000"/>
<rect x="492.5" y="311.5" width="4" height="5" fill="#fff" stroke="#000" stroke-width="1"/>
<rect x="502" y="313" width="1" height="7" fill="#000"/>
<rect x="500" y="315" width="5" height="5" fill="#000"/>
<rect x="510" y="288" width="1" height="53" fill="#000"/>
<rect x="508.5" y="306.5" width="4" height="12" fill="#fff" stroke="#000" stroke-width="1"/>
<rect x="518" y="296" width="1" height="30" fill="#000"/>
<rect x="516" y="305" width="5" height="12" fill="#000"/>
<rect x="526" y="294" width="1" height="50" fill="#000"/>
<rect x="524" y="316" width="5" height="21" fill="#000"/>
<rect x="534" y="327" width="1" height="28" fill="#000"/>
<rect x="532" y="335" width="5" height="14" fill="#000"/>
<rect x="542" y="334" width="1" height="33" fill="#000"/>
<rect x="540" y="347" width="5" height="15" fill="#000"/>
<rect x="550" y="360" width="1" height="7" fill="#000"/>
<rect x="548" y="364" width="5" height="1" fill="#000"/>
<rect x="558" y="327" width="1" height="55" fill="#000"/>
<rect x="556.5" y="335.5" width="4" height="30" fill="#fff" stroke="#000" stroke-width="1"/>
<rect x="566" y="334" width="1" height="70" fill="#000"/>
<rect x="564" y="335" width="5" height="64" fill="#000"/>
<rect x="574" y="384" width="1" height="53" fill="#000"/>
<rect x="572" y="397" width="5" height="37" fill="#000"/>
<rect x="582" y="428" width="1" height="45" fill="#000"/>
<rect x="580" y="432" width="5" height="29" fill="#000"/>
<rect x="590" y="453" width="1" height="25" fill="#000"/>
<rect x="588" y="459" width="5" height="5" fill="#000"/>
<rect x="598" y="452" width="1" height="15" fill="#000"/>
<rect x="596.5" y="452.5" width="4" height="11" fill="#fff" stroke="#000" stroke-width="1"/>
<rect x="606" y="432" width="1" height="52" fill="#000"/>
<rect x="604" y="452" width="5" height="9" fill="#000"/>
<rect x="614" y="455" width="1" height="24" fill="#000"/>
<rect x="612" y="458" width="5" height="17" fill="#000"/>
<rect x="622" y="455" width="1" height="33" fill="#000"/>
<rect x="620.5" y="470.5" width="4" height="4" fill="#fff" stroke="#000" stroke-width="1"/>
<rect x="630" y="464" width="1" height="36" fill="#000"/>
<rect x="628" y="469" width="5" height="27" fill="#000"/>
<rect x="638" y="459" width="1" height="42" fill="#000"/>
<rect x="636.5" y="470.5" width="4" height="24" fill="#fff" stroke="#000" stroke-width="1"/>
<rect x="646" y="475" width="1" height="5" fill="#000"/>
<rect x="644.5" y="476.5" width="4" height="3" fill="#fff" stroke="#000" stroke-width="1"/>
<rect x="654" y="469" width="1" height="33" fill="#000"/>
<rect x="652" y="475" width="5" height="15" fill="#000"/>
<rect x="662" y="479" width="1" height="24" fill="#000"/>
<rect x="660" y="489" width="5" height="10" fill="#000"/>
<rect x="670" y="471" width="1" height="49" fill="#000"/>
<rect x="668" y="498" width="5" height="1" fill="#000"/>
<rect x="678" y="495" width="1" height="28" fill="#000"/>
<rect x="676" y="498" width="5" height="7" fill="#000"/>
<rect x="686" y="488" width="1" height="32" fill="#000"/>
<rect x="684" y="503" width="5" height="8" fill="#000"/>
<rect x="694" y="495" width="1" height="16" fill="#000"/>
<rect x="692.5" y="495.5" width="4" height="14" fill="#fff" stroke="#000" stroke-width="1"/>
<rect x="702" y="452" width="1" height="57" fill="#000"/>
<rect x="700" y="495" width="5" height="3" fill="#000"/>
<rect x="710" y="462" width="1" height="45" fill="#000"/>
<rect x="708.5" y="481.5" width="4" height="16" fill="#fff" stroke="#000" stroke-width="1"/>
<rect x="718" y="457" width="1" height="33" fill="#000"/>
<rect x="716" y="481" width="5" height="1" fill="#000"/>
<rect x="726" y="452" width="1" height="38" fill="#000"/>
<rect x="724.5" y="466.5" width="4" height="16" fill="#fff" stroke="#000" stroke-width="1"/>
<rect x="734" y="460" width="1" height="17" fill="#000"/>
<rect x="732.5" y="468.5" width="4" height="4" fill="#fff" stroke="#000" stroke-width="1"/>
<rect x="742" y="452" width="1" height="32" fill="#000"/>
<rect x="740" y="469" width="5" height="10" fill="#000"/>
<rect x="750" y="477" width="1" height="39" fill="#000"/>
<rect x="748" y="477" width="5" height="32" fill="#000"/>
<rect x="758" y="498" width="1" height="31" fill="#000"/>
<rect x="756" y="507" width="5" height="20" fill="#000"/>
<rect x="766" y="495" width="1" height="48" fill="#000"/>
<rect x="764.5" y="502.5" width="4" height="24" fill="#fff" stroke="#000" stroke-width="1"/>
<rect x="774" y="506" width="1" height="12" fill="#000"/>
<rect x="772" y="514" width="5" height="1" fill="#000"/>
<rect x="782" y="504" width="1" height="45" fill="#000"/>
<rect x="780" y="514" width="5" height="15" fill="#000"/>
<rect x="790" y="525" width="1" height="30" fill="#000"/>
<rect x="788" y="528" width="5" height="24" fill="#000"/>
<rect x="798" y="522" width="1" height="47" fill="#000"/>
<rect x="796" y="550" width="5" height="1" fill="#000"/>
<rect x="806" y="493" width="1" height="64" fill="#000"/>
<rect x="804.5" y="500.5" width="4" height="50" fill="#fff" stroke="#000" stroke-width="1"/>
<rect x="814" y="476" width="1" height="47" fill="#000"/>
<rect x="812.5" y="491.5" width="4" height="9" fill="#fff" stroke="#000" stroke-width="1"/>
<rect x="822" y="481" width="1" height="17" fill="#000"/>
<rect x="820.5" y="483.5" width="4" height="14" fill="#fff" stroke="#000" stroke-width="1"/>
<rect x="830" y="452" width="1" height="37" fill="#000"/>
<rect x="828.5" y="468.5" width="4" height="15" fill="#fff" stroke="#000" stroke-width="1"/>
<rect x="838" y="454" width="1" height="41" fill="#000"/>
<rect x="836" y="468" width="5" height="27" fill="#000"/>
<rect x="846" y="473" width="1" height="30" fill="#000"/>
<rect x="844.5" y="486.5" width="4" height="7" fill="#fff" stroke="#000" stroke-width="1"/>
<rect x="854" y="453" width="1" height="45" fill="#000"/>
<rect x="852.5" y="477.5" width="4" height="9" fill="#fff" stroke="#000" stroke-width="1"/>
<rect x="862" y="457" width="1" height="32" fill="#000"/>
<rect x="860.5" y="457.5" width="4" height="21" fill="#fff" stroke="#000" stroke-width="1"/>
<rect x="870" y="447" width="1" height="18" fill="#000"/>
<rect x="868.5" y="447.5" width="4" height="17" fill="#fff" stroke="#000" stroke-width="1"/>
<rect x="878" y="447" width="1" height="22" fill="#000"/>
<rect x="876" y="448" width="5" height="13" fill="#000"/>
<rect x="886" y="453" width="1" height="40" fill="#000"/>
<rect x="884" y="459" width="5" height="22" fill="#000"/>
<rect x="894" y="451" width="1" height="40" fill="#000"/>
<rect x="892.5" y="470.5" width="4" height="9" fill="#fff" stroke="#000" stroke-width="1"/>
<rect x="902" y="466" width="1" height="39" fill="#000"/>
<rect x="900" y="470" width="5" height="30" fill="#000"/>
<rect x="910" y="489" width="1" height="22" fill="#000"/>
<rect x="908.5" y="493.5" width="4" height="6" fill="#fff" stroke="#000" stroke-width="1"/>
<rect x="918" y="496" width="1" height="7" fill="#000"/>
<rect x="916.5" y="497.5" width="4" height="5" fill="#fff" stroke="#000" stroke-width="1"/>
<rect x="926" y="470" width="1" height="35" fill="#000"/>
<rect x="924.5" y="479.5" width="4" height="18" fill="#fff" stroke="#000" stroke-width="1"/>
<rect x="934" y="468" width="1" height="27" fill="#000"/>
<rect x="932" y="479" width="5" height="12" fill="#000"/>
<rect x="942" y="453" width="1" height="42" fill="#000"/>
<rect x="940.5" y="471.5" width="4" height="19" fill="#fff" stroke="#000" stroke-width="1"/>
<rect x="950" y="452" width="1" height="37" fill="#000"/>
<rect x="948" y="471" width="5" height="7" fill="#000"/>
<rect x="958" y="457" width="1" height="29" fill="#000"/>
<rect x="956.5" y="459.5" width="4" height="17" fill="#fff" stroke="#000" stroke-width="1"/>
<rect x="966" y="451" width="1" height="23" fill="#000"/>
<rect x="964.5" y="455.5" width="4" height="15" fill="#fff" stroke="#000" stroke-width="1"/>
<rect x="974" y="413" width="1" height="49" fill="#000"/>
<rect x="972.5" y="418.5" width="4" height="36" fill="#fff" stroke="#000" stroke-width="1"/>
<rect x="982" y="397" width="1" height="37" fill="#000"/>
<rect x="980.5" y="408.5" width="4" height="10" fill="#fff" stroke="#000" stroke-width="1"/>
<rect x="990" y="392" width="1" height="25" fill="#000"/>
<rect x="988.5" y="405.5" width="4" height="4" fill="#fff" stroke="#000" stroke-width="1"/>
<rect x="998" y="361" width="1" height="46" fill="#000"/>
<rect x="996.5" y="365.5" width="4" height="41" fill="#fff" stroke="#000" stroke-width="1"/>
<rect x="1006" y="361" width="1" height="40" fill="#000"/>
<rect x="1004" y="365" width="5" height="33" fill="#000"/>
<rect x="1014" y="400" width="1" height="5" fill="#000"/>
<rect x="1012.5" y="400.5" width="4" height="4" fill="#fff" stroke="#000" stroke-width="1"/>
<rect x="1022" y="380" width="1" height="29" fill="#000"/>
<rect x="1020" y="400" width="5" height="5" fill="#000"/>
<rect x="1030" y="402" width="1" height="50" fill="#000"/>
<rect x="1028" y="403" width="5" height="46" fill="#000"/>
<rect x="1038" y="443" width="1" height="30" fill="#000"/>
<rect x="1036" y="447" width="5" height="18" fill="#000"/>
<rect x="1046" y="458" width="1" height="15" fill="#000"/>
<rect x="1044" y="464" width="5" height="1" fill="#000"/>
<rect x="1054" y="437" width="1" height="31" fill="#000"/>
<rect x="1052.5" y="449.5" width="4" height="16" fill="#fff" stroke="#000" stroke-width="1"/>
<rect x="1062" y="452" width="1" height="7" fill="#000"/>
<rect x="1060.5" y="452.5" width="4" height="4" fill="#fff" stroke="#000" stroke-width="1"/>
<rect x="1070" y="447" width="1" height="24" fill="#000"/>
<rect x="1068" y="451" width="5" height="16" fill="#000"/>
<rect x="1078" y="437" width="1" height="50" fill="#000"/>
<rect x="1076.5" y="440.5" width="4" height="27" fill="#fff" stroke="#000" stroke-width="1"/>
<rect x="1086" y="399" width="1" height="49" fill="#000"/>
<rect x="1084.5" y="404.5" width="4" height="36" fill="#fff" stroke="#000" stroke-width="1"/>
<rect x="1094" y="397" width="1" height="30" fill="#000"/>
<rect x="1092" y="404" width="5" height="20" fill="#000"/>
<rect x="1102" y="413" width="1" height="30" fill="#000"/>
<rect x="1100.5" y="418.5" width="4" height="4" fill="#fff" stroke="#000" stroke-width="1"/>
<rect x="1110" y="412" width="1" height="22" fill="#000"/>
<rect x="1108.5" y="416.5" width="4" height="16" fill="#fff" stroke="#000" stroke-width="1"/>
<rect x="1118" y="377" width="1" height="56" fill="#000"/>
<rect x="1116" y="416" width="5" height="9" fill="#000"/>
<rect x="1126" y="353" width="1" height="79" fill="#000"/>
<rect x="1124.5" y="355.5" width="4" height="68" fill="#fff" stroke="#000" stroke-width="1"/>
<rect x="1134" y="326" width="1" height="35" fill="#000"/>
<rect x="1132.5" y="345.5" width="4" height="11" fill="#fff" stroke="#000" stroke-width="1"/>
<rect x="1142" y="335" width="1" height="40" fill="#000"/>
<rect x="1140" y="345" width="5" height="9" fill="#000"/>
<rect x="1150" y="321" width="1" height="55" fill="#000"/>
<rect x="1148.5" y="330.5" width="4" height="23" fill="#fff" stroke="#000" stroke-width="1"/>
<rect x="1158" y="332" width="1" height="12" fill="#000"/>
<rect x="1156" y="342" width="5" height="2" fill="#000"/>
<rect x="1166" y="280" width="1" height="65" fill="#000"/>
<rect x="1164.5" y="286.5" width="4" height="56" fill="#fff" stroke="#000" stroke-width="1"/>
<rect x="1174" y="255" width="1" height="42" fill="#000"/>
<rect x="1172" y="286" width="5" height="1" fill="#000"/>
<rect x="1182" y="251" width="1" height="44" fill="#000"/>
<rect x="1180.5" y="251.5" width="4" height="35" fill="#fff" stroke="#000" stroke-width="1"/>
<rect x="1190" y="181" width="1" height="79" fill="#000"/>
<rect x="1188.5" y="184.5" width="4" height="67" fill="#fff" stroke="#000" stroke-width="1"/>
<rect x="1198" y="165" width="1" height="46" fill="#000"/>
<rect x="1196.5" y="174.5" width="4" height="10" fill="#fff" stroke="#000" stroke-width="1"/>
<rect x="1206" y="175" width="1" height="13" fill="#000"/>
<rect x="1204.5" y="178.5" width="4" height="3" fill="#fff" stroke="#000" stroke-width="1"/>
<rect x="1214" y="130" width="1" height="52" fill="#000"/>
<rect x="1212.5" y="135.5" width="4" height="44" fill="#fff" stroke="#000" stroke-width="1"/>
<rect x="1222" y="126" width="1" height="74" fill="#000"/>
<rect x="1220" y="135" width="5" height="58" fill="#000"/>
<rect x="1230" y="162" width="1" height="32" fill="#000"/>
<rect x="1228.5" y="181.5" width="4" height="11" fill="#fff" stroke="#000" stroke-width="1"/>
<rect x="1238" y="174" width="1" height="55" fill="#000"/>
<rect x="1236" y="180" width="5" height="38" fill="#000"/>
<rect x="1246" y="161" width="1" height="58" fill="#000"/>
<rect x="1244.5" y="181.5" width="4" height="36" fill="#fff" stroke="#000" stroke-width="1"/>
<rect x="1254" y="181" width="1" height="7" fill="#000"/>
<rect x="1252" y="184" width="5" height="1" fill="#000"/>
<rect x="1262" y="165" width="1" height="39" fill="#000"/>
<rect x="1260" y="183" width="5" height="13" fill="#000"/>
<rect x="1270" y="188" width="1" height="33" fill="#000"/>
<rect x="1268" y="195" width="5" height="22" fill="#000"/>
<rect x="1278" y="182" width="1" height="60" fill="#000"/>
<rect x="1276" y="215" width="5" height="22" fill="#000"/>
<rect x="1286" y="175" width="1" height="64" fill="#000"/>
<rect x="1284.5" y="198.5" width="4" height="36" fill="#fff" stroke="#000" stroke-width="1"/>
<rect x="1294" y="168" width="1" height="48" fill="#000"/>
<rect x="1292.5" y="185.5" width="4" height="14" fill="#fff" stroke="#000" stroke-width="1"/>
<rect x="1302" y="178" width="1" height="4" fill="#000"/>
<rect x="1300" y="180" width="5" height="1" fill="#000"/>
<rect x="1310" y="172" width="1" height="65" fill="#000"/>
<rect x="1308" y="179" width="5" height="49" fill="#000"/>
<rect x="1318" y="145" width="1" height="83" fill="#000"/>
<rect x="1316.5" y="147.5" width="4" height="80" fill="#fff" stroke="#000" stroke-width="1"/>
<rect x="1326" y="129" width="1" height="24" fill="#000"/>
<rect x="1324.5" y="136.5" width="4" height="12" fill="#fff" stroke="#000" stroke-width="1"/>
<rect x="1334" y="106" width="1" height="40" fill="#000"/>
<rect x="1332.5" y="110.5" width="4" height="26" fill="#fff" stroke="#000" stroke-width="1"/>
<rect x="1342" y="95" width="1" height="23" fill="#000"/>
<rect x="1340" y="110" width="5" height="6" fill="#000"/>
<rect x="1350" y="109" width="1" height="6" fill="#000"/>
<rect x="1348.5" y="110.5" width="4" height="4" fill="#fff" stroke="#000" stroke-width="1"/>
<rect x="1358" y="104" width="1" height="27" fill="#000"/>
<rect x="1356" y="112" width="5" height="3" fill="#000"/>
<rect x="1366" y="80" width="1" height="37" fill="#000"/>
<rect x="1364.5" y="94.5" width="4" height="21" fill="#fff" stroke="#000" stroke-width="1"/>
<rect x="1374" y="65" width="1" height="42" fill="#000"/>
<rect x="1372.5" y="79.5" width="4" height="16" fill="#fff" stroke="#000" stroke-width="1"/>
<rect x="1382" y="54" width="1" height="52" fill="#000"/>
<rect x="1380" y="79" width="5" height="18" fill="#000"/>
<rect x="1390" y="85" width="1" height="10" fill="#000"/>
<rect x="1388" y="88" width="5" height="6" fill="#000"/>
<rect x="1398" y="80" width="1" height="61" fill="#000"/>
<rect x="1396" y="92" width="5" height="45" fill="#000"/>
<rect x="1406" y="112" width="1" height="66" fill="#000"/>
<rect x="1404" y="136" width="5" height="39" fill="#000"/>
<rect x="1414" y="168" width="1" height="35" fill="#000"/>
<rect x="1412" y="173" width="5" height="10" fill="#000"/>
</g>
<rect x="-1.5" y="132.5" width="4" height="4" fill="#fff" stroke="#ff0000" stroke-width="1"/>
<rect x="1680.5" y="132.5" width="4" height="4" fill="#fff" stroke="#ff0000" stroke-width="1"/>
<rect x="-1.5" y="148.5" width="4" height="4" fill="#fff" stroke="#ff0000" stroke-width="1"/>
<rect x="1680.5" y="148.5" width="4" height="4" fill="#fff" stroke="#ff0000" stroke-width="1"/>
<rect x="-1.5" y="200.5" width="4" height="4" fill="#fff" stroke="#0000ff" stroke-width="1"/>
<rect x="1680.5" y="200.5" width="4" height="4" fill="#fff" stroke="#0000ff" stroke-width="1"/>
<rect x="-1.5" y="218.5" width="4" height="4" fill="#fff" stroke="#0000ff" stroke-width="1"/>
<rect x="1680.5" y="218.5" width="4" height="4" fill="#fff" stroke="#0000ff" stroke-width="1"/>
<rect x="1250" y="162" width="220" height="8" fill="#00ff00"/>
<path d="M1487.5,202 V178.5 H1597.5 V202" fill="none" stroke="#383838" stroke-width="1"/><rect x="1488" y="202" width="110" height="1" fill="#c8b848"/>
<polygon points="1533,178 1535.5,175.5 1538,178" fill="none" stroke="#ff40ff" stroke-width="0.8"/>
<text x="1488" y="197" font-family='"Noto Sans CJK SC", sans-serif' font-size="21" font-weight="300" fill="#00ff00" textLength="107" lengthAdjust="spacingAndGlyphs">多空转折点</text>
<rect x="39.5" y="173.5" width="61" height="18" fill="#fff" stroke="#ff0000" stroke-width="1"/>
<rect x="101" y="182" width="10" height="1" fill="#ff0000"/>
<text x="41.5" y="188.5" font-family='"Liberation Sans", Arial, sans-serif' font-size="16" fill="#ff0000" textLength="57.5" lengthAdjust="spacingAndGlyphs">0.92952</text>
<rect x="295.5" y="236.5" width="61" height="18" fill="#fff" stroke="#ff0000" stroke-width="1"/>
<rect x="357" y="245" width="10" height="1" fill="#ff0000"/>
<text x="297.5" y="251.5" font-family='"Liberation Sans", Arial, sans-serif' font-size="16" fill="#ff0000" textLength="57.5" lengthAdjust="spacingAndGlyphs">0.92072</text>
<rect x="727.5" y="557.5" width="61" height="18" fill="#fff" stroke="#ff0000" stroke-width="1"/>
<rect x="789" y="566" width="10" height="1" fill="#ff0000"/>
<text x="729.5" y="572.5" font-family='"Liberation Sans", Arial, sans-serif' font-size="16" fill="#ff0000" textLength="57.5" lengthAdjust="spacingAndGlyphs">0.87579</text>
<rect x="927.5" y="352.5" width="61" height="18" fill="#fff" stroke="#ff0000" stroke-width="1"/>
<rect x="989" y="361" width="10" height="1" fill="#ff0000"/>
<text x="929.5" y="367.5" font-family='"Liberation Sans", Arial, sans-serif' font-size="16" fill="#ff0000" textLength="57.5" lengthAdjust="spacingAndGlyphs">0.90446</text>
<rect x="1007.5" y="476.5" width="61" height="18" fill="#fff" stroke="#ff0000" stroke-width="1"/>
<rect x="1069" y="485" width="10" height="1" fill="#ff0000"/>
<text x="1009.5" y="491.5" font-family='"Liberation Sans", Arial, sans-serif' font-size="16" fill="#ff0000" textLength="57.5" lengthAdjust="spacingAndGlyphs">0.88711</text>
<rect x="1103.5" y="157.5" width="61" height="18" fill="#fff" stroke="#ff0000" stroke-width="1"/>
<rect x="1165" y="166" width="11" height="1" fill="#ff0000"/>
<text x="1105.5" y="172.5" font-family='"Liberation Sans", Arial, sans-serif' font-size="16" fill="#ff0000" textLength="57.5" lengthAdjust="spacingAndGlyphs">0.93169</text>
<rect x="1151.5" y="117.5" width="61" height="18" fill="#fff" stroke="#ff0000" stroke-width="1"/>
<rect x="1213" y="126" width="10" height="1" fill="#ff0000"/>
<text x="1153.5" y="132.5" font-family='"Liberation Sans", Arial, sans-serif' font-size="16" fill="#ff0000" textLength="57.5" lengthAdjust="spacingAndGlyphs">0.93735</text>
<rect x="1311.5" y="45.5" width="61" height="18" fill="#fff" stroke="#ff0000" stroke-width="1"/>
<rect x="1373" y="54" width="14" height="1" fill="#ff0000"/>
<text x="1313.5" y="60.5" font-family='"Liberation Sans", Arial, sans-serif' font-size="16" fill="#ff0000" textLength="57.5" lengthAdjust="spacingAndGlyphs">0.94731</text>
<rect x="1165.5" y="164.5" width="2" height="4" fill="#fff" stroke="#ff0000" stroke-width="1"/>
<rect x="1373.5" y="52.5" width="2" height="4" fill="#fff" stroke="#ff0000" stroke-width="1"/>
<polygon points="1426,29 1435,29 1430.5,34" fill="#c0c0c0"/>
<g clip-path="url(#cmacd)">
<rect x="-2" y="686" width="1" height="3" fill="#c0c0c0"/>
<rect x="6" y="686" width="1" height="5" fill="#c0c0c0"/>
<rect x="14" y="686" width="1" height="7" fill="#c0c0c0"/>
<rect x="22" y="686" width="1" height="9" fill="#c0c0c0"/>
<rect x="30" y="686" width="1" height="10" fill="#c0c0c0"/>
<rect x="38" y="686" width="1" height="12" fill="#c0c0c0"/>
<rect x="46" y="686" width="1" height="11" fill="#c0c0c0"/>
<rect x="54" y="686" width="1" height="12" fill="#c0c0c0"/>
<rect x="62" y="686" width="1" height="11" fill="#c0c0c0"/>
<rect x="70" y="686" width="1" height="10" fill="#c0c0c0"/>
<rect x="78" y="686" width="1" height="5" fill="#c0c0c0"/>
<rect x="86" y="683" width="1" height="4" fill="#c0c0c0"/>
<rect x="94" y="674" width="1" height="13" fill="#c0c0c0"/>
<rect x="102" y="666" width="1" height="21" fill="#c0c0c0"/>
<rect x="110" y="658" width="1" height="29" fill="#c0c0c0"/>
<rect x="118" y="652" width="1" height="35" fill="#c0c0c0"/>
<rect x="126" y="651" width="1" height="36" fill="#c0c0c0"/>
<rect x="134" y="655" width="1" height="32" fill="#c0c0c0"/>
<rect x="142" y="656" width="1" height="31" fill="#c0c0c0"/>
<rect x="150" y="660" width="1" height="27" fill="#c0c0c0"/>
<rect x="158" y="661" width="1" height="26" fill="#c0c0c0"/>
<rect x="166" y="665" width="1" height="22" fill="#c0c0c0"/>
<rect x="174" y="670" width="1" height="17" fill="#c0c0c0"/>
<rect x="182" y="672" width="1" height="15" fill="#c0c0c0"/>
<rect x="190" y="675" width="1" height="12" fill="#c0c0c0"/>
<rect x="198" y="677" width="1" height="10" fill="#c0c0c0"/>
<rect x="206" y="684" width="1" height="3" fill="#c0c0c0"/>
<rect x="214" y="686" width="1" height="4" fill="#c0c0c0"/>
<rect x="222" y="686" width="1" height="9" fill="#c0c0c0"/>
<rect x="230" y="686" width="1" height="9" fill="#c0c0c0"/>
<rect x="238" y="686" width="1" height="9" fill="#c0c0c0"/>
<rect x="246" y="686" width="1" height="9" fill="#c0c0c0"/>
<rect x="254" y="686" width="1" height="8" fill="#c0c0c0"/>
<rect x="262" y="686" width="1" height="7" fill="#c0c0c0"/>
<rect x="270" y="686" width="1" height="10" fill="#c0c0c0"/>
<rect x="278" y="686" width="1" height="15" fill="#c0c0c0"/>
<rect x="286" y="686" width="1" height="19" fill="#c0c0c0"/>
<rect x="294" y="686" width="1" height="21" fill="#c0c0c0"/>
<rect x="302" y="686" width="1" height="25" fill="#c0c0c0"/>
<rect x="310" y="686" width="1" height="28" fill="#c0c0c0"/>
<rect x="318" y="686" width="1" height="27" fill="#c0c0c0"/>
<rect x="326" y="686" width="1" height="25" fill="#c0c0c0"/>
<rect x="334" y="686" width="1" height="22" fill="#c0c0c0"/>
<rect x="342" y="686" width="1" height="16" fill="#c0c0c0"/>
<rect x="350" y="686" width="1" height="10" fill="#c0c0c0"/>
<rect x="358" y="686" width="1" height="5" fill="#c0c0c0"/>
<rect x="366" y="684" width="1" height="3" fill="#c0c0c0"/>
<rect x="374" y="686" width="1" height="2" fill="#c0c0c0"/>
<rect x="382" y="686" width="1" height="3" fill="#c0c0c0"/>
<rect x="390" y="686" width="1" height="9" fill="#c0c0c0"/>
<rect x="398" y="686" width="1" height="17" fill="#c0c0c0"/>
<rect x="406" y="686" width="1" height="24" fill="#c0c0c0"/>
<rect x="414" y="686" width="1" height="19" fill="#c0c0c0"/>
<rect x="422" y="686" width="1" height="13" fill="#c0c0c0"/>
<rect x="430" y="686" width="1" height="6" fill="#c0c0c0"/>
<rect x="438" y="686" width="1" height="3" fill="#c0c0c0"/>
<rect x="446" y="686" width="1" height="1" fill="#c0c0c0"/>
<rect x="454" y="686" width="1" height="1" fill="#c0c0c0"/>
<rect x="462" y="686" width="1" height="1" fill="#c0c0c0"/>
<rect x="470" y="686" width="1" height="1" fill="#c0c0c0"/>
<rect x="478" y="686" width="1" height="1" fill="#c0c0c0"/>
<rect x="486" y="686" width="1" height="2" fill="#c0c0c0"/>
<rect x="494" y="686" width="1" height="2" fill="#c0c0c0"/>
<rect x="502" y="686" width="1" height="3" fill="#c0c0c0"/>
<rect x="510" y="686" width="1" height="2" fill="#c0c0c0"/>
<rect x="518" y="686" width="1" height="2" fill="#c0c0c0"/>
<rect x="526" y="686" width="1" height="5" fill="#c0c0c0"/>
<rect x="534" y="686" width="1" height="8" fill="#c0c0c0"/>
<rect x="542" y="686" width="1" height="12" fill="#c0c0c0"/>
<rect x="550" y="686" width="1" height="15" fill="#c0c0c0"/>
<rect x="558" y="686" width="1" height="14" fill="#c0c0c0"/>
<rect x="566" y="686" width="1" height="20" fill="#c0c0c0"/>
<rect x="574" y="686" width="1" height="28" fill="#c0c0c0"/>
<rect x="582" y="686" width="1" height="37" fill="#c0c0c0"/>
<rect x="590" y="686" width="1" height="44" fill="#c0c0c0"/>
<rect x="598" y="686" width="1" height="48" fill="#c0c0c0"/>
<rect x="606" y="686" width="1" height="51" fill="#c0c0c0"/>
<rect x="614" y="686" width="1" height="55" fill="#c0c0c0"/>
<rect x="622" y="686" width="1" height="57" fill="#c0c0c0"/>
<rect x="630" y="686" width="1" height="60" fill="#c0c0c0"/>
<rect x="638" y="686" width="1" height="59" fill="#c0c0c0"/>
<rect x="646" y="686" width="1" height="59" fill="#c0c0c0"/>
<rect x="654" y="686" width="1" height="59" fill="#c0c0c0"/>
<rect x="662" y="686" width="1" height="60" fill="#c0c0c0"/>
<rect x="670" y="686" width="1" height="59" fill="#c0c0c0"/>
<rect x="678" y="686" width="1" height="59" fill="#c0c0c0"/>
<rect x="686" y="686" width="1" height="59" fill="#c0c0c0"/>
<rect x="694" y="686" width="1" height="57" fill="#c0c0c0"/>
<rect x="702" y="686" width="1" height="54" fill="#c0c0c0"/>
<rect x="710" y="686" width="1" height="50" fill="#c0c0c0"/>
<rect x="718" y="686" width="1" height="46" fill="#c0c0c0"/>
<rect x="726" y="686" width="1" height="41" fill="#c0c0c0"/>
<rect x="734" y="686" width="1" height="37" fill="#c0c0c0"/>
<rect x="742" y="686" width="1" height="35" fill="#c0c0c0"/>
<rect x="750" y="686" width="1" height="35" fill="#c0c0c0"/>
<rect x="758" y="686" width="1" height="37" fill="#c0c0c0"/>
<rect x="766" y="686" width="1" height="36" fill="#c0c0c0"/>
<rect x="774" y="686" width="1" height="36" fill="#c0c0c0"/>
<rect x="782" y="686" width="1" height="37" fill="#c0c0c0"/>
<rect x="790" y="686" width="1" height="40" fill="#c0c0c0"/>
<rect x="798" y="686" width="1" height="41" fill="#c0c0c0"/>
<rect x="806" y="686" width="1" height="37" fill="#c0c0c0"/>
<rect x="814" y="686" width="1" height="32" fill="#c0c0c0"/>
<rect x="822" y="686" width="1" height="27" fill="#c0c0c0"/>
<rect x="830" y="686" width="1" height="21" fill="#c0c0c0"/>
<rect x="838" y="686" width="1" height="19" fill="#c0c0c0"/>
<rect x="846" y="686" width="1" height="17" fill="#c0c0c0"/>
<rect x="854" y="686" width="1" height="13" fill="#c0c0c0"/>
<rect x="862" y="686" width="1" height="9" fill="#c0c0c0"/>
<rect x="870" y="686" width="1" height="4" fill="#c0c0c0"/>
<rect x="878" y="686" width="1" height="1" fill="#c0c0c0"/>
<rect x="886" y="686" width="1" height="1" fill="#c0c0c0"/>
<rect x="894" y="686" width="1" height="1" fill="#c0c0c0"/>
<rect x="902" y="686" width="1" height="3" fill="#c0c0c0"/>
<rect x="910" y="686" width="1" height="4" fill="#c0c0c0"/>
<rect x="918" y="686" width="1" height="5" fill="#c0c0c0"/>
<rect x="926" y="686" width="1" height="5" fill="#c0c0c0"/>
<rect x="934" y="686" width="1" height="5" fill="#c0c0c0"/>
<rect x="942" y="686" width="1" height="3" fill="#c0c0c0"/>
<rect x="950" y="686" width="1" height="2" fill="#c0c0c0"/>
<rect x="958" y="685" width="1" height="2" fill="#c0c0c0"/>
<rect x="966" y="683" width="1" height="4" fill="#c0c0c0"/>
<rect x="974" y="677" width="1" height="10" fill="#c0c0c0"/>
<rect x="982" y="671" width="1" height="16" fill="#c0c0c0"/>
<rect x="990" y="667" width="1" height="20" fill="#c0c0c0"/>
<rect x="998" y="659" width="1" height="28" fill="#c0c0c0"/>
<rect x="1006" y="657" width="1" height="30" fill="#c0c0c0"/>
<rect x="1014" y="656" width="1" height="31" fill="#c0c0c0"/>
<rect x="1022" y="656" width="1" height="31" fill="#c0c0c0"/>
<rect x="1030" y="661" width="1" height="26" fill="#c0c0c0"/>
<rect x="1038" y="667" width="1" height="20" fill="#c0c0c0"/>
<rect x="1046" y="672" width="1" height="15" fill="#c0c0c0"/>
<rect x="1054" y="674" width="1" height="13" fill="#c0c0c0"/>
<rect x="1062" y="677" width="1" height="10" fill="#c0c0c0"/>
<rect x="1070" y="680" width="1" height="7" fill="#c0c0c0"/>
<rect x="1078" y="680" width="1" height="7" fill="#c0c0c0"/>
<rect x="1086" y="676" width="1" height="11" fill="#c0c0c0"/>
<rect x="1094" y="675" width="1" height="12" fill="#c0c0c0"/>
<rect x="1102" y="674" width="1" height="13" fill="#c0c0c0"/>
<rect x="1110" y="673" width="1" height="14" fill="#c0c0c0"/>
<rect x="1118" y="674" width="1" height="13" fill="#c0c0c0"/>
<rect x="1126" y="667" width="1" height="20" fill="#c0c0c0"/>
<rect x="1134" y="660" width="1" height="27" fill="#c0c0c0"/>
<rect x="1142" y="657" width="1" height="30" fill="#c0c0c0"/>
<rect x="1150" y="652" width="1" height="35" fill="#c0c0c0"/>
<rect x="1158" y="649" width="1" height="38" fill="#c0c0c0"/>
<rect x="1166" y="642" width="1" height="45" fill="#c0c0c0"/>
<rect x="1174" y="637" width="1" height="50" fill="#c0c0c0"/>
<rect x="1182" y="629" width="1" height="58" fill="#c0c0c0"/>
<rect x="1190" y="617" width="1" height="70" fill="#c0c0c0"/>
<rect x="1198" y="607" width="1" height="80" fill="#c0c0c0"/>
<rect x="1206" y="601" width="1" height="86" fill="#c0c0c0"/>
<rect x="1214" y="592" width="1" height="95" fill="#c0c0c0"/>
<rect x="1222" y="593" width="1" height="94" fill="#c0c0c0"/>
<rect x="1230" y="593" width="1" height="94" fill="#c0c0c0"/>
<rect x="1238" y="598" width="1" height="89" fill="#c0c0c0"/>
<rect x="1246" y="599" width="1" height="88" fill="#c0c0c0"/>
<rect x="1254" y="601" width="1" height="86" fill="#c0c0c0"/>
<rect x="1262" y="605" width="1" height="82" fill="#c0c0c0"/>
<rect x="1270" y="611" width="1" height="76" fill="#c0c0c0"/>
<rect x="1278" y="619" width="1" height="68" fill="#c0c0c0"/>
<rect x="1286" y="622" width="1" height="65" fill="#c0c0c0"/>
<rect x="1294" y="624" width="1" height="63" fill="#c0c0c0"/>
<rect x="1302" y="625" width="1" height="62" fill="#c0c0c0"/>
<rect x="1310" y="632" width="1" height="55" fill="#c0c0c0"/>
<rect x="1318" y="629" width="1" height="58" fill="#c0c0c0"/>
<rect x="1326" y="627" width="1" height="60" fill="#c0c0c0"/>
<rect x="1334" y="623" width="1" height="64" fill="#c0c0c0"/>
<rect x="1342" y="621" width="1" height="66" fill="#c0c0c0"/>
<rect x="1350" y="620" width="1" height="67" fill="#c0c0c0"/>
<rect x="1358" y="620" width="1" height="67" fill="#c0c0c0"/>
<rect x="1366" y="619" width="1" height="68" fill="#c0c0c0"/>
<rect x="1374" y="617" width="1" height="70" fill="#c0c0c0"/>
<rect x="1382" y="618" width="1" height="69" fill="#c0c0c0"/>
<rect x="1390" y="619" width="1" height="68" fill="#c0c0c0"/>
<rect x="1398" y="626" width="1" height="61" fill="#c0c0c0"/>
<rect x="1406" y="636" width="1" height="51" fill="#c0c0c0"/>
<rect x="1414" y="645" width="1" height="42" fill="#c0c0c0"/>
<polyline points="-1.5,706.80 6.5,704.60 14.5,702.10 22.5,699.90 30.5,697.00 38.5,695.10 46.5,694.90 54.5,694.90 62.5,694.21 70.5,694.93 78.5,694.97 86.5,694.02 94.5,691.88 102.5,688.60 110.5,684.27 118.5,679.41 126.5,674.37 134.5,669.77 142.5,665.52 150.5,662.13 158.5,659.72 166.5,658.68 174.5,659.16 182.5,660.81 190.5,663.36 198.5,666.20 206.5,669.47 214.5,673.12 222.5,676.96 230.5,680.53 238.5,683.79 246.5,686.43 254.5,688.71 262.5,690.64 270.5,692.65 278.5,694.43 286.5,696.13 294.5,697.48 302.5,699.31 310.5,701.35 318.5,703.33 326.5,705.21 334.5,706.86 342.5,707.52 350.5,706.93 358.5,705.28 366.5,702.84 374.5,700.24 382.5,697.45 390.5,695.46 398.5,694.60 406.5,694.81 414.5,695.11 422.5,695.42 430.5,695.60 438.5,695.98 446.5,695.96 454.5,695.79 462.5,694.88 470.5,693.08 478.5,690.53 486.5,688.64 494.5,687.44 502.5,687.02 510.5,686.88 518.5,686.98 526.5,687.39 534.5,688.22 542.5,689.41 550.5,690.96 558.5,692.37 566.5,694.44 574.5,697.32 582.5,701.28 590.5,705.97 598.5,710.80 606.5,715.64 614.5,720.45 622.5,725.07 630.5,730.15 638.5,734.49 646.5,737.86 654.5,740.27 662.5,741.96 670.5,743.20 678.5,744.05 686.5,744.49 694.5,744.48 702.5,743.85 710.5,742.85 718.5,741.48 726.5,739.52 734.5,737.04 742.5,734.29 750.5,731.64 758.5,729.24 766.5,726.95 774.5,724.90 782.5,723.42 790.5,722.66 798.5,722.66 806.5,722.62 814.5,722.34 822.5,721.43 830.5,719.64 838.5,717.77 846.5,715.62 854.5,713.00 862.5,709.55 870.5,705.37 878.5,701.40 886.5,697.99 894.5,695.04 902.5,692.99 910.5,691.32 918.5,690.09 926.5,689.11 934.5,688.70 942.5,688.65 950.5,688.78 958.5,688.63 966.5,688.31 974.5,687.09 982.5,685.13 990.5,682.52 998.5,679.16 1006.5,675.53 1014.5,671.97 1022.5,668.48 1030.5,665.83 1038.5,664.10 1046.5,663.54 1054.5,663.86 1062.5,664.92 1070.5,667.20 1078.5,669.73 1086.5,671.96 1094.5,674.10 1102.5,675.55 1110.5,676.26 1118.5,676.47 1126.5,675.64 1134.5,673.86 1142.5,671.27 1150.5,668.12 1158.5,665.11 1166.5,661.39 1174.5,657.21 1182.5,652.30 1190.5,646.01 1198.5,639.40 1206.5,632.79 1214.5,625.64 1222.5,619.11 1230.5,612.86 1238.5,607.99 1246.5,603.83 1254.5,600.73 1262.5,599.41 1270.5,599.87 1278.5,601.89 1286.5,605.20 1294.5,608.63 1302.5,612.21 1310.5,615.98 1318.5,619.33 1326.5,622.17 1334.5,624.13 1342.5,625.18 1350.5,625.22 1358.5,624.96 1366.5,624.39 1374.5,623.46 1382.5,621.91 1390.5,620.80 1398.5,620.68 1406.5,622.09 1414.5,624.73" fill="none" stroke="#ff0000" stroke-width="1" stroke-dasharray="3 3"/>
</g>
<text x="3" y="596" font-family='"Liberation Sans", Arial, sans-serif' font-size="10.4" fill="#000" stroke="#000" stroke-width="0.28" textLength="147" lengthAdjust="spacingAndGlyphs">MACD(12,26,9) 0.004367 0.006494</text>
<g clip-path="url(#crsi)">
<line x1="0" y1="791.5" x2="1685" y2="791.5" stroke="#c0c0c0" stroke-width="1" stroke-dasharray="3 3" stroke-dashoffset="1"/>
<line x1="0" y1="842.5" x2="1685" y2="842.5" stroke="#c0c0c0" stroke-width="1" stroke-dasharray="3 3" stroke-dashoffset="1"/>
<line x1="0" y1="903.5" x2="1685" y2="903.5" stroke="#c0c0c0" stroke-width="1" stroke-dasharray="3 3" stroke-dashoffset="1"/>
<polyline points="-1.5,844.03 6.5,848.60 14.5,850.22 22.5,852.09 30.5,852.90 38.5,852.90 46.5,845.84 54.5,852.16 62.5,846.78 70.5,843.33 78.5,831.51 86.5,820.94 94.5,813.57 102.5,809.43 110.5,806.23 118.5,808.43 126.5,823.91 134.5,836.32 142.5,833.01 150.5,838.51 158.5,834.83 166.5,841.93 174.5,848.85 182.5,842.39 190.5,844.06 198.5,843.94 206.5,860.90 214.5,859.42 222.5,862.17 230.5,844.64 238.5,849.00 246.5,845.64 254.5,844.48 262.5,844.08 270.5,856.23 278.5,864.41 286.5,866.15 294.5,860.19 302.5,866.47 310.5,866.73 318.5,854.43 326.5,851.90 334.5,846.13 342.5,833.47 350.5,829.12 358.5,829.26 366.5,824.96 374.5,849.08 382.5,846.60 390.5,862.00 398.5,870.09 406.5,870.56 414.5,839.28 422.5,835.13 430.5,832.34 438.5,836.70 446.5,839.74 454.5,842.42 462.5,841.71 470.5,844.55 478.5,843.02 486.5,845.26 494.5,843.51 502.5,846.54 510.5,841.03 518.5,845.27 526.5,853.22 534.5,857.48 542.5,861.96 550.5,863.11 558.5,848.67 566.5,868.04 574.5,875.65 582.5,880.75 590.5,881.29 598.5,876.34 606.5,877.90 614.5,880.98 622.5,878.37 630.5,883.72 638.5,870.81 646.5,872.48 654.5,875.63 662.5,877.62 670.5,877.62 678.5,879.13 686.5,880.92 694.5,871.25 702.5,871.92 710.5,861.98 718.5,861.98 726.5,853.13 734.5,854.05 742.5,858.41 750.5,870.09 758.5,875.78 766.5,861.67 774.5,865.65 782.5,870.49 790.5,876.92 798.5,876.66 806.5,850.18 814.5,846.18 822.5,842.93 830.5,836.79 838.5,847.41 846.5,844.27 854.5,840.56 862.5,832.69 870.5,829.01 878.5,835.05 886.5,844.03 894.5,840.12 902.5,851.70 910.5,849.29 918.5,850.91 926.5,842.47 934.5,846.97 942.5,838.84 950.5,841.39 958.5,833.91 966.5,832.22 974.5,819.05 982.5,815.98 990.5,815.10 998.5,804.46 1006.5,821.33 1014.5,823.12 1022.5,824.74 1030.5,844.24 1038.5,849.73 1046.5,849.80 1054.5,843.67 1062.5,844.58 1070.5,850.60 1078.5,839.51 1086.5,827.10 1094.5,834.89 1102.5,833.12 1110.5,832.77 1118.5,836.48 1126.5,815.43 1134.5,813.14 1142.5,816.99 1150.5,811.27 1158.5,817.12 1166.5,805.33 1174.5,805.26 1182.5,799.17 1190.5,790.65 1198.5,789.51 1206.5,791.69 1214.5,787.02 1222.5,810.22 1230.5,808.36 1238.5,820.90 1246.5,814.64 1254.5,815.39 1262.5,819.53 1270.5,826.42 1278.5,832.87 1286.5,824.44 1294.5,821.73 1302.5,820.57 1310.5,835.95 1318.5,819.78 1326.5,817.94 1334.5,813.68 1342.5,815.18 1350.5,814.35 1358.5,815.85 1366.5,812.04 1374.5,809.30 1382.5,816.30 1390.5,815.55 1398.5,831.95 1406.5,843.46 1414.5,845.73" fill="none" stroke="#1e90ff" stroke-width="1"/>
</g>
<text x="3" y="768" font-family='"Liberation Sans", Arial, sans-serif' font-size="10.4" fill="#000" stroke="#000" stroke-width="0.28" textLength="67" lengthAdjust="spacingAndGlyphs">RSI(14) 48.4846</text>
<line x1="1304.5" y1="227" x2="1382.38" y2="61.85" stroke="#ff0000" stroke-width="4"/>
<polygon points="1387.5,51 1386.96,66.22 1376.10,61.10" fill="#ff0000"/>
<line x1="1387.5" y1="52" x2="1431" y2="208" stroke="#ff0000" stroke-width="4"/>
<line x1="1387.5" y1="52" x2="1431.77" y2="210.44" stroke="#ff0000" stroke-width="4"/>
<polygon points="1435,222 1425.45,210.13 1437.01,206.90" fill="#ff0000"/>
<line x1="1312.5" y1="635.5" x2="1369.12" y2="626.56" stroke="#ff0000" stroke-width="3.5"/>
<polygon points="1379,625 1367.93,631.81 1366.37,621.93" fill="#ff0000"/>
<line x1="1379" y1="621" x2="1462.52" y2="683.98" stroke="#ff0000" stroke-width="3.5"/>
<polygon points="1470.5,690 1457.91,686.77 1463.93,678.78" fill="#ff0000"/>
<line x1="1376.5" y1="808.5" x2="1408.50" y2="844.29" stroke="#ff0000" stroke-width="3.5"/>
<polygon points="1414.5,851 1403.44,846.13 1410.90,839.47" fill="#ff0000"/>
<rect x="0" y="28" width="1686" height="1" fill="#000"/>
<rect x="0" y="581" width="1686" height="1" fill="#000"/>
<rect x="0" y="583" width="1686" height="1" fill="#000"/>
<rect x="0" y="753" width="1686" height="1" fill="#000"/>
<rect x="0" y="755" width="1686" height="1" fill="#000"/>
<rect x="0" y="929" width="1686" height="1" fill="#000"/>
<rect x="1685" y="28" width="1" height="902" fill="#000"/>
<rect x="1686" y="50" width="3" height="1" fill="#000"/>
<text x="1691" y="54" font-family='"Liberation Sans", Arial, sans-serif' font-size="10.4" fill="#000" stroke="#000" stroke-width="0.28" textLength="33" lengthAdjust="spacingAndGlyphs">0.94790</text>
<rect x="1686" y="83" width="3" height="1" fill="#000"/>
<text x="1691" y="87" font-family='"Liberation Sans", Arial, sans-serif' font-size="10.4" fill="#000" stroke="#000" stroke-width="0.28" textLength="33" lengthAdjust="spacingAndGlyphs">0.94330</text>
<rect x="1686" y="116" width="3" height="1" fill="#000"/>
<text x="1691" y="120" font-family='"Liberation Sans", Arial, sans-serif' font-size="10.4" fill="#000" stroke="#000" stroke-width="0.28" textLength="33" lengthAdjust="spacingAndGlyphs">0.93870</text>
<rect x="1686" y="149" width="3" height="1" fill="#000"/>
<text x="1691" y="153" font-family='"Liberation Sans", Arial, sans-serif' font-size="10.4" fill="#000" stroke="#000" stroke-width="0.28" textLength="33" lengthAdjust="spacingAndGlyphs">0.93410</text>
<rect x="1686" y="182" width="3" height="1" fill="#000"/>
<text x="1691" y="186" font-family='"Liberation Sans", Arial, sans-serif' font-size="10.4" fill="#000" stroke="#000" stroke-width="0.28" textLength="33" lengthAdjust="spacingAndGlyphs">0.92950</text>
<rect x="1686" y="215" width="3" height="1" fill="#000"/>
<text x="1691" y="219" font-family='"Liberation Sans", Arial, sans-serif' font-size="10.4" fill="#000" stroke="#000" stroke-width="0.28" textLength="33" lengthAdjust="spacingAndGlyphs">0.92490</text>
<rect x="1686" y="248" width="3" height="1" fill="#000"/>
<text x="1691" y="252" font-family='"Liberation Sans", Arial, sans-serif' font-size="10.4" fill="#000" stroke="#000" stroke-width="0.28" textLength="33" lengthAdjust="spacingAndGlyphs">0.92020</text>
<rect x="1686" y="281" width="3" height="1" fill="#000"/>
<text x="1691" y="285" font-family='"Liberation Sans", Arial, sans-serif' font-size="10.4" fill="#000" stroke="#000" stroke-width="0.28" textLength="33" lengthAdjust="spacingAndGlyphs">0.91560</text>
<rect x="1686" y="314" width="3" height="1" fill="#000"/>
<text x="1691" y="318" font-family='"Liberation Sans", Arial, sans-serif' font-size="10.4" fill="#000" stroke="#000" stroke-width="0.28" textLength="33" lengthAdjust="spacingAndGlyphs">0.91100</text>
<rect x="1686" y="347" width="3" height="1" fill="#000"/>
<text x="1691" y="351" font-family='"Liberation Sans", Arial, sans-serif' font-size="10.4" fill="#000" stroke="#000" stroke-width="0.28" textLength="33" lengthAdjust="spacingAndGlyphs">0.90640</text>
<rect x="1686" y="380" width="3" height="1" fill="#000"/>
<text x="1691" y="384" font-family='"Liberation Sans", Arial, sans-serif' font-size="10.4" fill="#000" stroke="#000" stroke-width="0.28" textLength="33" lengthAdjust="spacingAndGlyphs">0.90180</text>
<rect x="1686" y="413" width="3" height="1" fill="#000"/>
<text x="1691" y="417" font-family='"Liberation Sans", Arial, sans-serif' font-size="10.4" fill="#000" stroke="#000" stroke-width="0.28" textLength="33" lengthAdjust="spacingAndGlyphs">0.89720</text>
<rect x="1686" y="446" width="3" height="1" fill="#000"/>
<text x="1691" y="450" font-family='"Liberation Sans", Arial, sans-serif' font-size="10.4" fill="#000" stroke="#000" stroke-width="0.28" textLength="33" lengthAdjust="spacingAndGlyphs">0.89260</text>
<rect x="1686" y="479" width="3" height="1" fill="#000"/>
<text x="1691" y="483" font-family='"Liberation Sans", Arial, sans-serif' font-size="10.4" fill="#000" stroke="#000" stroke-width="0.28" textLength="33" lengthAdjust="spacingAndGlyphs">0.88800</text>
<rect x="1686" y="512" width="3" height="1" fill="#000"/>
<text x="1691" y="516" font-family='"Liberation Sans", Arial, sans-serif' font-size="10.4" fill="#000" stroke="#000" stroke-width="0.28" textLength="33" lengthAdjust="spacingAndGlyphs">0.88340</text>
<rect x="1686" y="545" width="3" height="1" fill="#000"/>
<text x="1691" y="549" font-family='"Liberation Sans", Arial, sans-serif' font-size="10.4" fill="#000" stroke="#000" stroke-width="0.28" textLength="33" lengthAdjust="spacingAndGlyphs">0.87870</text>
<rect x="1686" y="578" width="3" height="1" fill="#000"/>
<text x="1691" y="582" font-family='"Liberation Sans", Arial, sans-serif' font-size="10.4" fill="#000" stroke="#000" stroke-width="0.28" textLength="33" lengthAdjust="spacingAndGlyphs">0.87410</text>
<rect x="1687" y="128" width="41" height="11" fill="#ff0000"/>
<text x="1691" y="137" font-family='"Liberation Sans", Arial, sans-serif' font-size="10.4" fill="#fff" stroke="#fff" stroke-width="0.2" textLength="33" lengthAdjust="spacingAndGlyphs">0.93615</text>
<rect x="1687" y="144" width="41" height="11" fill="#ff0000"/>
<text x="1691" y="153" font-family='"Liberation Sans", Arial, sans-serif' font-size="10.4" fill="#fff" stroke="#fff" stroke-width="0.2" textLength="33" lengthAdjust="spacingAndGlyphs">0.93392</text>
<rect x="1687" y="160" width="41" height="11" fill="#00ced1"/>
<text x="1691" y="169" font-family='"Liberation Sans", Arial, sans-serif' font-size="10.4" fill="#fff" stroke="#fff" stroke-width="0.2" textLength="33" lengthAdjust="spacingAndGlyphs">0.93169</text>
<rect x="1687" y="177" width="41" height="11" fill="#000000"/>
<text x="1691" y="186" font-family='"Liberation Sans", Arial, sans-serif' font-size="10.4" fill="#fff" stroke="#fff" stroke-width="0.2" textLength="33" lengthAdjust="spacingAndGlyphs">0.92952</text>
<rect x="1687" y="197" width="41" height="11" fill="#0000ff"/>
<text x="1691" y="206" font-family='"Liberation Sans", Arial, sans-serif' font-size="10.4" fill="#fff" stroke="#fff" stroke-width="0.2" textLength="33" lengthAdjust="spacingAndGlyphs">0.92667</text>
<rect x="1687" y="214" width="41" height="11" fill="#0000ff"/>
<text x="1691" y="223" font-family='"Liberation Sans", Arial, sans-serif' font-size="10.4" fill="#fff" stroke="#fff" stroke-width="0.2" textLength="33" lengthAdjust="spacingAndGlyphs">0.92416</text>
<rect x="1686" y="585" width="2" height="1" fill="#000"/>
<text x="1689" y="594" font-family='"Liberation Sans", Arial, sans-serif' font-size="10.4" fill="#000" stroke="#000" stroke-width="0.28" textLength="33" lengthAdjust="spacingAndGlyphs">0.01064</text>
<text x="1689" y="690" font-family='"Liberation Sans", Arial, sans-serif' font-size="10.4" fill="#000" stroke="#000" stroke-width="0.28" textLength="19" lengthAdjust="spacingAndGlyphs">0.00</text>
<rect x="1686" y="752" width="2" height="1" fill="#000"/>
<text x="1688" y="750" font-family='"Liberation Sans", Arial, sans-serif' font-size="10.4" fill="#000" stroke="#000" stroke-width="0.28" textLength="41" lengthAdjust="spacingAndGlyphs">-0.006934</text>
<rect x="1686" y="757" width="2" height="1" fill="#000"/>
<text x="1689" y="766" font-family='"Liberation Sans", Arial, sans-serif' font-size="10.4" fill="#000" stroke="#000" stroke-width="0.28" textLength="15" lengthAdjust="spacingAndGlyphs">100</text>
<text x="1689" y="795" font-family='"Liberation Sans", Arial, sans-serif' font-size="10.4" fill="#000" stroke="#000" stroke-width="0.28" textLength="10" lengthAdjust="spacingAndGlyphs">80</text>
<text x="1689" y="846" font-family='"Liberation Sans", Arial, sans-serif' font-size="10.4" fill="#000" stroke="#000" stroke-width="0.28" textLength="10" lengthAdjust="spacingAndGlyphs">50</text>
<text x="1689" y="907" font-family='"Liberation Sans", Arial, sans-serif' font-size="10.4" fill="#000" stroke="#000" stroke-width="0.28" textLength="10" lengthAdjust="spacingAndGlyphs">15</text>
<rect x="1686" y="928" width="2" height="1" fill="#000"/>
<text x="1689" y="926" font-family='"Liberation Sans", Arial, sans-serif' font-size="10.4" fill="#000" stroke="#000" stroke-width="0.28">0</text>
<text transform="translate(-3,942) scale(0.886,1)" font-family='"Liberation Sans", Arial, sans-serif' font-size="10.4" fill="#000" stroke="#000" stroke-width="0.28">9 Sep 2020</text>
<rect x="62" y="930" width="1" height="3" fill="#000"/>
<text transform="translate(61,942) scale(0.886,1)" font-family='"Liberation Sans", Arial, sans-serif' font-size="10.4" fill="#000" stroke="#000" stroke-width="0.28">18 Sep 2020</text>
<rect x="126" y="930" width="1" height="3" fill="#000"/>
<text transform="translate(125,942) scale(0.886,1)" font-family='"Liberation Sans", Arial, sans-serif' font-size="10.4" fill="#000" stroke="#000" stroke-width="0.28">28 Sep 2020</text>
<rect x="190" y="930" width="1" height="3" fill="#000"/>
<text transform="translate(189,942) scale(0.886,1)" font-family='"Liberation Sans", Arial, sans-serif' font-size="10.4" fill="#000" stroke="#000" stroke-width="0.28">7 Oct 2020</text>
<rect x="254" y="930" width="1" height="3" fill="#000"/>
<text transform="translate(253,942) scale(0.886,1)" font-family='"Liberation Sans", Arial, sans-serif' font-size="10.4" fill="#000" stroke="#000" stroke-width="0.28">16 Oct 2020</text>
<rect x="318" y="930" width="1" height="3" fill="#000"/>
<text transform="translate(317,942) scale(0.886,1)" font-family='"Liberation Sans", Arial, sans-serif' font-size="10.4" fill="#000" stroke="#000" stroke-width="0.28">26 Oct 2020</text>
<rect x="382" y="930" width="1" height="3" fill="#000"/>
<text transform="translate(381,942) scale(0.886,1)" font-family='"Liberation Sans", Arial, sans-serif' font-size="10.4" fill="#000" stroke="#000" stroke-width="0.28">4 Nov 2020</text>
<rect x="446" y="930" width="1" height="3" fill="#000"/>
<text transform="translate(445,942) scale(0.886,1)" font-family='"Liberation Sans", Arial, sans-serif' font-size="10.4" fill="#000" stroke="#000" stroke-width="0.28">13 Nov 2020</text>
<rect x="510" y="930" width="1" height="3" fill="#000"/>
<text transform="translate(509,942) scale(0.886,1)" font-family='"Liberation Sans", Arial, sans-serif' font-size="10.4" fill="#000" stroke="#000" stroke-width="0.28">23 Nov 2020</text>
<rect x="574" y="930" width="1" height="3" fill="#000"/>
<text transform="translate(573,942) scale(0.886,1)" font-family='"Liberation Sans", Arial, sans-serif' font-size="10.4" fill="#000" stroke="#000" stroke-width="0.28">2 Dec 2020</text>
<rect x="638" y="930" width="1" height="3" fill="#000"/>
<text transform="translate(637,942) scale(0.886,1)" font-family='"Liberation Sans", Arial, sans-serif' font-size="10.4" fill="#000" stroke="#000" stroke-width="0.28">11 Dec 2020</text>
<rect x="702" y="930" width="1" height="3" fill="#000"/>
<text transform="translate(701,942) scale(0.886,1)" font-family='"Liberation Sans", Arial, sans-serif' font-size="10.4" fill="#000" stroke="#000" stroke-width="0.28">21 Dec 2020</text>
<rect x="766" y="930" width="1" height="3" fill="#000"/>
<text transform="translate(765,942) scale(0.886,1)" font-family='"Liberation Sans", Arial, sans-serif' font-size="10.4" fill="#000" stroke="#000" stroke-width="0.28">31 Dec 2020</text>
<rect x="830" y="930" width="1" height="3" fill="#000"/>
<text transform="translate(829,942) scale(0.886,1)" font-family='"Liberation Sans", Arial, sans-serif' font-size="10.4" fill="#000" stroke="#000" stroke-width="0.28">11 Jan 2021</text>
<rect x="894" y="930" width="1" height="3" fill="#000"/>
<text transform="translate(893,942) scale(0.886,1)" font-family='"Liberation Sans", Arial, sans-serif' font-size="10.4" fill="#000" stroke="#000" stroke-width="0.28">20 Jan 2021</text>
<rect x="958" y="930" width="1" height="3" fill="#000"/>
<text transform="translate(957,942) scale(0.886,1)" font-family='"Liberation Sans", Arial, sans-serif' font-size="10.4" fill="#000" stroke="#000" stroke-width="0.28">29 Jan 2021</text>
<rect x="1022" y="930" width="1" height="3" fill="#000"/>
<text transform="translate(1021,942) scale(0.886,1)" font-family='"Liberation Sans", Arial, sans-serif' font-size="10.4" fill="#000" stroke="#000" stroke-width="0.28">8 Feb 2021</text>
<rect x="1086" y="930" width="1" height="3" fill="#000"/>
<text transform="translate(1085,942) scale(0.886,1)" font-family='"Liberation Sans", Arial, sans-serif' font-size="10.4" fill="#000" stroke="#000" stroke-width="0.28">17 Feb 2021</text>
<rect x="1150" y="930" width="1" height="3" fill="#000"/>
<text transform="translate(1149,942) scale(0.886,1)" font-family='"Liberation Sans", Arial, sans-serif' font-size="10.4" fill="#000" stroke="#000" stroke-width="0.28">26 Feb 2021</text>
<rect x="1214" y="930" width="1" height="3" fill="#000"/>
<text transform="translate(1213,942) scale(0.886,1)" font-family='"Liberation Sans", Arial, sans-serif' font-size="10.4" fill="#000" stroke="#000" stroke-width="0.28">8 Mar 2021</text>
<rect x="1278" y="930" width="1" height="3" fill="#000"/>
<text transform="translate(1277,942) scale(0.886,1)" font-family='"Liberation Sans", Arial, sans-serif' font-size="10.4" fill="#000" stroke="#000" stroke-width="0.28">17 Mar 2021</text>
<rect x="1342" y="930" width="1" height="3" fill="#000"/>
<text transform="translate(1341,942) scale(0.886,1)" font-family='"Liberation Sans", Arial, sans-serif' font-size="10.4" fill="#000" stroke="#000" stroke-width="0.28">26 Mar 2021</text>
<rect x="1406" y="930" width="1" height="3" fill="#000"/>
<text transform="translate(1405,942) scale(0.886,1)" font-family='"Liberation Sans", Arial, sans-serif' font-size="10.4" fill="#000" stroke="#000" stroke-width="0.28">6 Apr 2021</text>
<polygon points="1,39 8,39 4.5,35" fill="#000"/>
<text x="13.3" y="40" font-family='"Liberation Sans", Arial, sans-serif' font-size="10.4" fill="#000" stroke="#000" stroke-width="0.28" textLength="67" lengthAdjust="spacingAndGlyphs">USDCHF-,Daily</text>
<text x="87" y="40" font-family='"Liberation Sans", Arial, sans-serif' font-size="10.4" fill="#000" stroke="#000" stroke-width="0.28" textLength="140.5" lengthAdjust="spacingAndGlyphs">0.93076 0.93142 0.92673 0.92952</text>
</g>
<g>
<defs>
<linearGradient id="gtab" x1="0" y1="0" x2="0" y2="1"><stop offset="0" stop-color="#fa5858"/><stop offset="1" stop-color="#de2c2c"/></linearGradient>
<linearGradient id="glow" x1="0" y1="0" x2="0" y2="1"><stop offset="0" stop-color="#e03434"/><stop offset="1" stop-color="#b40202"/></linearGradient>
<linearGradient id="gbtn" x1="0" y1="0" x2="0" y2="1"><stop offset="0" stop-color="#f2f2f2"/><stop offset="0.45" stop-color="#e6e6e6"/><stop offset="0.5" stop-color="#d8d8d8"/><stop offset="1" stop-color="#d0d0d0"/></linearGradient>
</defs>
<rect x="1" y="48" width="52" height="25" fill="url(#gtab)"/>
<rect x="1" y="72" width="109" height="40" fill="url(#glow)"/>
<path d="M1.5,112 V48.5 H52.5 V72" fill="none" stroke="#c00000" stroke-width="1"/>
<rect x="1.5" y="72.5" width="108" height="39" fill="none" stroke="#c00000" stroke-width="1"/>
<rect x="2" y="72" width="50" height="1" fill="#e23838"/>
<rect x="5" y="71" width="44" height="1" fill="#7a0000"/>
<rect x="5" y="72" width="44" height="1" fill="#f07070"/>
<text x="13.3" y="64" font-family='"Liberation Sans", Arial, sans-serif' font-size="12.5" fill="#fff" textLength="26" lengthAdjust="spacingAndGlyphs">SELL</text>
<text x="21" y="103" font-family='"Liberation Sans", Arial, sans-serif' font-size="12" font-weight="bold" fill="#fff" textLength="24" lengthAdjust="spacingAndGlyphs">0.92</text>
<text x="48.9" y="103" font-family='"Liberation Sans", Arial, sans-serif' font-size="35" fill="#fff" textLength="33" lengthAdjust="spacingAndGlyphs">95</text>
<text x="88" y="87" font-family='"Liberation Sans", Arial, sans-serif' font-size="12" font-weight="bold" fill="#fff" textLength="7" lengthAdjust="spacingAndGlyphs">2</text>
<rect x="168" y="48" width="52" height="25" fill="url(#gtab)"/>
<rect x="112" y="72" width="108" height="40" fill="url(#glow)"/>
<path d="M219.5,112 V48.5 H168.5 V72" fill="none" stroke="#c00000" stroke-width="1"/>
<rect x="112.5" y="72.5" width="107" height="39" fill="none" stroke="#c00000" stroke-width="1"/>
<rect x="169" y="72" width="50" height="1" fill="#e23838"/>
<rect x="172" y="71" width="44" height="1" fill="#7a0000"/>
<rect x="172" y="72" width="44" height="1" fill="#f07070"/>
<text x="181.5" y="64" font-family='"Liberation Sans", Arial, sans-serif' font-size="12.5" fill="#fff" textLength="23.5" lengthAdjust="spacingAndGlyphs">BUY</text>
<text x="130.7" y="103" font-family='"Liberation Sans", Arial, sans-serif' font-size="12" font-weight="bold" fill="#fff" textLength="24" lengthAdjust="spacingAndGlyphs">0.92</text>
<text x="160.7" y="103" font-family='"Liberation Sans", Arial, sans-serif' font-size="35" fill="#fff" textLength="33" lengthAdjust="spacingAndGlyphs">97</text>
<text x="198.9" y="87" font-family='"Liberation Sans", Arial, sans-serif' font-size="12" font-weight="bold" fill="#fff" textLength="7" lengthAdjust="spacingAndGlyphs">2</text>
<rect x="55.5" y="48.5" width="110" height="21" fill="#fff" stroke="#a0a4ac" stroke-width="1"/>
<rect x="56" y="49" width="20" height="20" fill="url(#gbtn)"/><rect x="76" y="49" width="1" height="20" fill="#a0a4ac"/>
<rect x="145" y="49" width="20" height="20" fill="url(#gbtn)"/><rect x="144" y="49" width="1" height="20" fill="#a0a4ac"/>
<polygon points="63,57 68,57 65.5,60" fill="#4a5ad0"/>
<polygon points="152,60 157,60 154.5,57" fill="#4a5ad0"/>
<text x="117.8" y="63" font-family='"Liberation Sans", Arial, sans-serif' font-size="12" fill="#000" textLength="23" lengthAdjust="spacingAndGlyphs">1.00</text>
</g>
</svg>
</body></html>
